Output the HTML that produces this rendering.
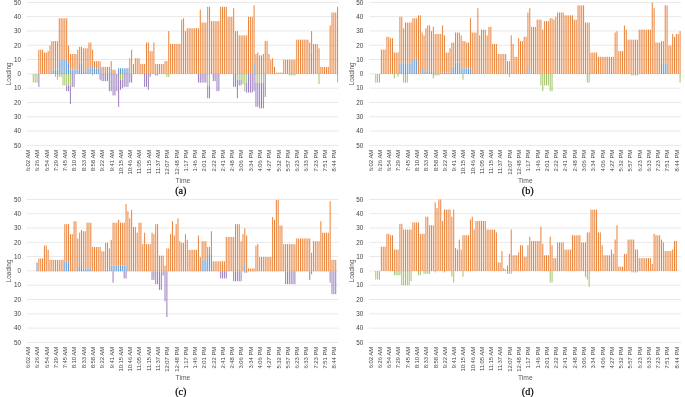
<!DOCTYPE html>
<html><head><meta charset="utf-8"><title>Loading charts</title>
<style>
html,body{margin:0;padding:0;background:#fff;}
body{width:685px;height:397px;overflow:hidden;font-family:"Liberation Sans",sans-serif;}
svg{display:block;will-change:transform;}
svg text{font-family:"Liberation Sans",sans-serif;}
svg text.cap{font-family:"Liberation Serif",serif;}
</style></head><body>
<svg width="685" height="397" viewBox="0 0 685 397">
<rect width="685" height="397" fill="#fff"/>
<rect x="26.90" y="144.90" width="311.70" height="0.9" fill="#E7E7E7"/>
<text x="20.90" y="147.60" text-anchor="end" font-size="6.3" fill="#424242">50</text>
<rect x="26.90" y="130.60" width="311.70" height="0.9" fill="#E7E7E7"/>
<text x="20.90" y="133.30" text-anchor="end" font-size="6.3" fill="#424242">40</text>
<rect x="26.90" y="116.30" width="311.70" height="0.9" fill="#E7E7E7"/>
<text x="20.90" y="119.00" text-anchor="end" font-size="6.3" fill="#424242">30</text>
<rect x="26.90" y="102.00" width="311.70" height="0.9" fill="#E7E7E7"/>
<text x="20.90" y="104.70" text-anchor="end" font-size="6.3" fill="#424242">20</text>
<rect x="26.90" y="87.70" width="311.70" height="0.9" fill="#E7E7E7"/>
<text x="20.90" y="90.40" text-anchor="end" font-size="6.3" fill="#424242">10</text>
<rect x="26.90" y="73.40" width="311.70" height="0.9" fill="#E7E7E7"/>
<text x="20.90" y="76.10" text-anchor="end" font-size="6.3" fill="#424242">0</text>
<rect x="26.90" y="59.10" width="311.70" height="0.9" fill="#E7E7E7"/>
<text x="20.90" y="61.80" text-anchor="end" font-size="6.3" fill="#424242">10</text>
<rect x="26.90" y="44.80" width="311.70" height="0.9" fill="#E7E7E7"/>
<text x="20.90" y="47.50" text-anchor="end" font-size="6.3" fill="#424242">20</text>
<rect x="26.90" y="30.50" width="311.70" height="0.9" fill="#E7E7E7"/>
<text x="20.90" y="33.20" text-anchor="end" font-size="6.3" fill="#424242">30</text>
<rect x="26.90" y="16.20" width="311.70" height="0.9" fill="#E7E7E7"/>
<text x="20.90" y="18.90" text-anchor="end" font-size="6.3" fill="#424242">40</text>
<rect x="26.90" y="1.90" width="311.70" height="0.9" fill="#E7E7E7"/>
<text x="20.90" y="4.60" text-anchor="end" font-size="6.3" fill="#424242">50</text>
<rect x="32.79" y="74.00" width="1.0" height="8.58" fill="#A2C36B"/>
<rect x="34.65" y="74.00" width="1.0" height="8.58" fill="#A2C36B"/>
<rect x="36.50" y="74.00" width="1.0" height="8.58" fill="#A2C36B"/>
<rect x="38.36" y="49.69" width="1.0" height="24.31" fill="#EB8238"/>
<rect x="38.36" y="74.00" width="1.0" height="12.87" fill="#9A7DBF"/>
<rect x="40.22" y="49.69" width="1.0" height="24.31" fill="#EB8238"/>
<rect x="42.07" y="49.69" width="1.0" height="24.31" fill="#EB8238"/>
<rect x="43.93" y="52.55" width="1.0" height="21.45" fill="#EB8238"/>
<rect x="45.78" y="52.55" width="1.0" height="21.45" fill="#EB8238"/>
<rect x="47.64" y="51.12" width="1.0" height="22.88" fill="#EB8238"/>
<rect x="49.49" y="45.40" width="1.0" height="28.60" fill="#EB8238"/>
<rect x="51.35" y="69.71" width="1.0" height="4.29" fill="#5F97D0"/>
<rect x="51.35" y="41.11" width="1.0" height="28.60" fill="#EB8238"/>
<rect x="53.20" y="69.71" width="1.0" height="4.29" fill="#5F97D0"/>
<rect x="53.20" y="41.11" width="1.0" height="28.60" fill="#EB8238"/>
<rect x="55.06" y="69.71" width="1.0" height="4.29" fill="#5F97D0"/>
<rect x="55.06" y="41.11" width="1.0" height="28.60" fill="#EB8238"/>
<rect x="55.06" y="74.00" width="1.0" height="2.86" fill="#A2C36B"/>
<rect x="56.91" y="69.71" width="1.0" height="4.29" fill="#5F97D0"/>
<rect x="56.91" y="41.11" width="1.0" height="28.60" fill="#EB8238"/>
<rect x="56.91" y="74.00" width="1.0" height="5.72" fill="#A2C36B"/>
<rect x="58.77" y="59.70" width="1.0" height="14.30" fill="#5F97D0"/>
<rect x="58.77" y="18.23" width="1.0" height="41.47" fill="#EB8238"/>
<rect x="58.77" y="74.00" width="1.0" height="2.86" fill="#A2C36B"/>
<rect x="60.62" y="59.70" width="1.0" height="14.30" fill="#5F97D0"/>
<rect x="60.62" y="18.23" width="1.0" height="41.47" fill="#EB8238"/>
<rect x="60.62" y="74.00" width="1.0" height="2.86" fill="#A2C36B"/>
<rect x="62.48" y="59.70" width="1.0" height="14.30" fill="#5F97D0"/>
<rect x="62.48" y="18.23" width="1.0" height="41.47" fill="#EB8238"/>
<rect x="62.48" y="74.00" width="1.0" height="11.44" fill="#A2C36B"/>
<rect x="64.33" y="59.70" width="1.0" height="14.30" fill="#5F97D0"/>
<rect x="64.33" y="18.23" width="1.0" height="41.47" fill="#EB8238"/>
<rect x="64.33" y="74.00" width="1.0" height="11.44" fill="#A2C36B"/>
<rect x="66.19" y="59.70" width="1.0" height="14.30" fill="#5F97D0"/>
<rect x="66.19" y="18.23" width="1.0" height="41.47" fill="#EB8238"/>
<rect x="66.19" y="74.00" width="1.0" height="11.44" fill="#A2C36B"/>
<rect x="66.19" y="85.44" width="1.0" height="5.72" fill="#9A7DBF"/>
<rect x="68.05" y="63.99" width="1.0" height="10.01" fill="#5F97D0"/>
<rect x="68.05" y="45.40" width="1.0" height="18.59" fill="#EB8238"/>
<rect x="68.05" y="74.00" width="1.0" height="11.44" fill="#A2C36B"/>
<rect x="68.05" y="85.44" width="1.0" height="5.72" fill="#9A7DBF"/>
<rect x="69.90" y="69.71" width="1.0" height="4.29" fill="#5F97D0"/>
<rect x="69.90" y="53.98" width="1.0" height="15.73" fill="#EB8238"/>
<rect x="69.90" y="74.00" width="1.0" height="11.44" fill="#A2C36B"/>
<rect x="69.90" y="85.44" width="1.0" height="18.59" fill="#9A7DBF"/>
<rect x="71.76" y="69.71" width="1.0" height="4.29" fill="#5F97D0"/>
<rect x="71.76" y="53.98" width="1.0" height="15.73" fill="#EB8238"/>
<rect x="71.76" y="74.00" width="1.0" height="12.87" fill="#9A7DBF"/>
<rect x="73.61" y="69.71" width="1.0" height="4.29" fill="#5F97D0"/>
<rect x="73.61" y="53.98" width="1.0" height="15.73" fill="#EB8238"/>
<rect x="73.61" y="74.00" width="1.0" height="12.87" fill="#9A7DBF"/>
<rect x="75.47" y="69.71" width="1.0" height="4.29" fill="#5F97D0"/>
<rect x="75.47" y="53.98" width="1.0" height="15.73" fill="#EB8238"/>
<rect x="77.32" y="69.71" width="1.0" height="4.29" fill="#5F97D0"/>
<rect x="77.32" y="49.69" width="1.0" height="20.02" fill="#EB8238"/>
<rect x="79.18" y="62.56" width="1.0" height="11.44" fill="#5F97D0"/>
<rect x="79.18" y="46.83" width="1.0" height="15.73" fill="#EB8238"/>
<rect x="81.03" y="62.56" width="1.0" height="11.44" fill="#5F97D0"/>
<rect x="81.03" y="46.83" width="1.0" height="15.73" fill="#EB8238"/>
<rect x="82.89" y="71.14" width="1.0" height="2.86" fill="#5F97D0"/>
<rect x="82.89" y="48.26" width="1.0" height="22.88" fill="#EB8238"/>
<rect x="84.74" y="71.14" width="1.0" height="2.86" fill="#5F97D0"/>
<rect x="84.74" y="48.26" width="1.0" height="22.88" fill="#EB8238"/>
<rect x="86.60" y="71.14" width="1.0" height="2.86" fill="#5F97D0"/>
<rect x="86.60" y="48.26" width="1.0" height="22.88" fill="#EB8238"/>
<rect x="88.45" y="68.28" width="1.0" height="5.72" fill="#5F97D0"/>
<rect x="88.45" y="42.54" width="1.0" height="25.74" fill="#EB8238"/>
<rect x="90.31" y="68.28" width="1.0" height="5.72" fill="#5F97D0"/>
<rect x="90.31" y="42.54" width="1.0" height="25.74" fill="#EB8238"/>
<rect x="92.17" y="65.42" width="1.0" height="8.58" fill="#5F97D0"/>
<rect x="92.17" y="49.69" width="1.0" height="15.73" fill="#EB8238"/>
<rect x="92.17" y="74.00" width="1.0" height="1.43" fill="#A2C36B"/>
<rect x="94.02" y="68.28" width="1.0" height="5.72" fill="#5F97D0"/>
<rect x="94.02" y="61.13" width="1.0" height="7.15" fill="#EB8238"/>
<rect x="95.88" y="68.28" width="1.0" height="5.72" fill="#5F97D0"/>
<rect x="95.88" y="61.13" width="1.0" height="7.15" fill="#EB8238"/>
<rect x="97.73" y="68.28" width="1.0" height="5.72" fill="#5F97D0"/>
<rect x="97.73" y="61.13" width="1.0" height="7.15" fill="#EB8238"/>
<rect x="99.59" y="68.28" width="1.0" height="5.72" fill="#5F97D0"/>
<rect x="99.59" y="61.13" width="1.0" height="7.15" fill="#EB8238"/>
<rect x="99.59" y="74.00" width="1.0" height="5.72" fill="#9A7DBF"/>
<rect x="101.44" y="66.85" width="1.0" height="7.15" fill="#EB8238"/>
<rect x="101.44" y="74.00" width="1.0" height="7.15" fill="#9A7DBF"/>
<rect x="103.30" y="66.85" width="1.0" height="7.15" fill="#EB8238"/>
<rect x="103.30" y="74.00" width="1.0" height="7.15" fill="#9A7DBF"/>
<rect x="105.15" y="66.85" width="1.0" height="7.15" fill="#EB8238"/>
<rect x="105.15" y="74.00" width="1.0" height="7.15" fill="#9A7DBF"/>
<rect x="107.01" y="66.85" width="1.0" height="7.15" fill="#EB8238"/>
<rect x="107.01" y="74.00" width="1.0" height="7.15" fill="#9A7DBF"/>
<rect x="108.86" y="66.85" width="1.0" height="7.15" fill="#EB8238"/>
<rect x="108.86" y="74.00" width="1.0" height="17.16" fill="#9A7DBF"/>
<rect x="110.72" y="68.28" width="1.0" height="5.72" fill="#5F97D0"/>
<rect x="110.72" y="61.13" width="1.0" height="7.15" fill="#EB8238"/>
<rect x="110.72" y="74.00" width="1.0" height="17.16" fill="#9A7DBF"/>
<rect x="112.57" y="69.71" width="1.0" height="4.29" fill="#EB8238"/>
<rect x="112.57" y="74.00" width="1.0" height="21.45" fill="#9A7DBF"/>
<rect x="114.43" y="69.71" width="1.0" height="4.29" fill="#EB8238"/>
<rect x="114.43" y="74.00" width="1.0" height="21.45" fill="#9A7DBF"/>
<rect x="116.28" y="74.00" width="1.0" height="17.16" fill="#9A7DBF"/>
<rect x="118.14" y="68.28" width="1.0" height="5.72" fill="#5F97D0"/>
<rect x="118.14" y="74.00" width="1.0" height="32.89" fill="#9A7DBF"/>
<rect x="120.00" y="68.28" width="1.0" height="5.72" fill="#5F97D0"/>
<rect x="120.00" y="74.00" width="1.0" height="5.72" fill="#A2C36B"/>
<rect x="120.00" y="79.72" width="1.0" height="10.01" fill="#9A7DBF"/>
<rect x="121.85" y="68.28" width="1.0" height="5.72" fill="#5F97D0"/>
<rect x="121.85" y="74.00" width="1.0" height="5.72" fill="#A2C36B"/>
<rect x="121.85" y="79.72" width="1.0" height="8.58" fill="#9A7DBF"/>
<rect x="123.71" y="68.28" width="1.0" height="5.72" fill="#5F97D0"/>
<rect x="123.71" y="74.00" width="1.0" height="12.87" fill="#9A7DBF"/>
<rect x="125.56" y="68.28" width="1.0" height="5.72" fill="#5F97D0"/>
<rect x="125.56" y="74.00" width="1.0" height="12.87" fill="#9A7DBF"/>
<rect x="127.42" y="68.28" width="1.0" height="5.72" fill="#5F97D0"/>
<rect x="127.42" y="74.00" width="1.0" height="12.87" fill="#9A7DBF"/>
<rect x="129.27" y="58.27" width="1.0" height="15.73" fill="#EB8238"/>
<rect x="129.27" y="74.00" width="1.0" height="8.58" fill="#9A7DBF"/>
<rect x="131.13" y="49.69" width="1.0" height="24.31" fill="#EB8238"/>
<rect x="131.13" y="74.00" width="1.0" height="8.58" fill="#9A7DBF"/>
<rect x="132.98" y="63.99" width="1.0" height="10.01" fill="#EB8238"/>
<rect x="134.84" y="58.27" width="1.0" height="15.73" fill="#EB8238"/>
<rect x="136.69" y="58.27" width="1.0" height="15.73" fill="#EB8238"/>
<rect x="138.55" y="58.27" width="1.0" height="15.73" fill="#EB8238"/>
<rect x="140.40" y="63.99" width="1.0" height="10.01" fill="#EB8238"/>
<rect x="142.26" y="63.99" width="1.0" height="10.01" fill="#EB8238"/>
<rect x="144.12" y="63.99" width="1.0" height="10.01" fill="#EB8238"/>
<rect x="144.12" y="74.00" width="1.0" height="12.87" fill="#9A7DBF"/>
<rect x="145.97" y="42.54" width="1.0" height="31.46" fill="#EB8238"/>
<rect x="145.97" y="74.00" width="1.0" height="12.87" fill="#9A7DBF"/>
<rect x="147.83" y="42.54" width="1.0" height="31.46" fill="#EB8238"/>
<rect x="147.83" y="74.00" width="1.0" height="15.73" fill="#9A7DBF"/>
<rect x="149.68" y="51.12" width="1.0" height="22.88" fill="#EB8238"/>
<rect x="149.68" y="74.00" width="1.0" height="2.86" fill="#9A7DBF"/>
<rect x="151.54" y="51.12" width="1.0" height="22.88" fill="#EB8238"/>
<rect x="153.39" y="42.54" width="1.0" height="31.46" fill="#EB8238"/>
<rect x="155.25" y="63.99" width="1.0" height="10.01" fill="#EB8238"/>
<rect x="155.25" y="74.00" width="1.0" height="1.43" fill="#9A7DBF"/>
<rect x="157.10" y="63.99" width="1.0" height="10.01" fill="#EB8238"/>
<rect x="157.10" y="74.00" width="1.0" height="1.43" fill="#9A7DBF"/>
<rect x="158.96" y="63.99" width="1.0" height="10.01" fill="#EB8238"/>
<rect x="160.81" y="63.99" width="1.0" height="10.01" fill="#EB8238"/>
<rect x="162.67" y="63.99" width="1.0" height="10.01" fill="#EB8238"/>
<rect x="164.52" y="61.13" width="1.0" height="12.87" fill="#EB8238"/>
<rect x="166.38" y="61.13" width="1.0" height="12.87" fill="#EB8238"/>
<rect x="166.38" y="74.00" width="1.0" height="2.86" fill="#A2C36B"/>
<rect x="168.23" y="31.10" width="1.0" height="42.90" fill="#EB8238"/>
<rect x="168.23" y="74.00" width="1.0" height="2.86" fill="#A2C36B"/>
<rect x="170.09" y="43.97" width="1.0" height="30.03" fill="#EB8238"/>
<rect x="171.95" y="43.97" width="1.0" height="30.03" fill="#EB8238"/>
<rect x="173.80" y="43.97" width="1.0" height="30.03" fill="#EB8238"/>
<rect x="175.66" y="43.97" width="1.0" height="30.03" fill="#EB8238"/>
<rect x="177.51" y="43.97" width="1.0" height="30.03" fill="#EB8238"/>
<rect x="179.37" y="43.97" width="1.0" height="30.03" fill="#EB8238"/>
<rect x="181.22" y="19.66" width="1.0" height="54.34" fill="#EB8238"/>
<rect x="183.08" y="18.23" width="1.0" height="55.77" fill="#EB8238"/>
<rect x="184.93" y="31.10" width="1.0" height="42.90" fill="#EB8238"/>
<rect x="186.79" y="28.24" width="1.0" height="45.76" fill="#EB8238"/>
<rect x="188.64" y="28.24" width="1.0" height="45.76" fill="#EB8238"/>
<rect x="190.50" y="28.24" width="1.0" height="45.76" fill="#EB8238"/>
<rect x="192.35" y="28.24" width="1.0" height="45.76" fill="#EB8238"/>
<rect x="194.21" y="28.24" width="1.0" height="45.76" fill="#EB8238"/>
<rect x="196.07" y="28.24" width="1.0" height="45.76" fill="#EB8238"/>
<rect x="197.92" y="28.24" width="1.0" height="45.76" fill="#EB8238"/>
<rect x="197.92" y="74.00" width="1.0" height="8.58" fill="#9A7DBF"/>
<rect x="199.78" y="9.65" width="1.0" height="64.35" fill="#EB8238"/>
<rect x="199.78" y="74.00" width="1.0" height="8.58" fill="#9A7DBF"/>
<rect x="201.63" y="22.52" width="1.0" height="51.48" fill="#EB8238"/>
<rect x="201.63" y="74.00" width="1.0" height="8.58" fill="#9A7DBF"/>
<rect x="203.49" y="22.52" width="1.0" height="51.48" fill="#EB8238"/>
<rect x="203.49" y="74.00" width="1.0" height="8.58" fill="#9A7DBF"/>
<rect x="205.34" y="22.52" width="1.0" height="51.48" fill="#EB8238"/>
<rect x="205.34" y="74.00" width="1.0" height="8.58" fill="#9A7DBF"/>
<rect x="207.20" y="6.79" width="1.0" height="67.21" fill="#EB8238"/>
<rect x="207.20" y="74.00" width="1.0" height="11.44" fill="#A2C36B"/>
<rect x="207.20" y="85.44" width="1.0" height="12.87" fill="#9A7DBF"/>
<rect x="209.05" y="6.79" width="1.0" height="67.21" fill="#EB8238"/>
<rect x="209.05" y="74.00" width="1.0" height="11.44" fill="#A2C36B"/>
<rect x="209.05" y="85.44" width="1.0" height="12.87" fill="#9A7DBF"/>
<rect x="210.91" y="21.09" width="1.0" height="52.91" fill="#EB8238"/>
<rect x="212.76" y="21.09" width="1.0" height="52.91" fill="#EB8238"/>
<rect x="212.76" y="74.00" width="1.0" height="7.15" fill="#9A7DBF"/>
<rect x="214.62" y="21.09" width="1.0" height="52.91" fill="#EB8238"/>
<rect x="214.62" y="74.00" width="1.0" height="7.15" fill="#9A7DBF"/>
<rect x="216.47" y="21.09" width="1.0" height="52.91" fill="#EB8238"/>
<rect x="216.47" y="74.00" width="1.0" height="17.16" fill="#9A7DBF"/>
<rect x="218.33" y="21.09" width="1.0" height="52.91" fill="#EB8238"/>
<rect x="218.33" y="74.00" width="1.0" height="17.16" fill="#9A7DBF"/>
<rect x="220.18" y="6.79" width="1.0" height="67.21" fill="#EB8238"/>
<rect x="222.04" y="6.79" width="1.0" height="67.21" fill="#EB8238"/>
<rect x="223.90" y="6.79" width="1.0" height="67.21" fill="#EB8238"/>
<rect x="225.75" y="6.79" width="1.0" height="67.21" fill="#EB8238"/>
<rect x="227.61" y="16.80" width="1.0" height="57.20" fill="#EB8238"/>
<rect x="229.46" y="16.80" width="1.0" height="57.20" fill="#EB8238"/>
<rect x="231.32" y="16.80" width="1.0" height="57.20" fill="#EB8238"/>
<rect x="233.17" y="8.22" width="1.0" height="65.78" fill="#EB8238"/>
<rect x="233.17" y="74.00" width="1.0" height="12.87" fill="#9A7DBF"/>
<rect x="235.03" y="31.10" width="1.0" height="42.90" fill="#EB8238"/>
<rect x="235.03" y="74.00" width="1.0" height="12.87" fill="#9A7DBF"/>
<rect x="236.88" y="31.10" width="1.0" height="42.90" fill="#EB8238"/>
<rect x="236.88" y="74.00" width="1.0" height="5.72" fill="#A2C36B"/>
<rect x="236.88" y="79.72" width="1.0" height="18.59" fill="#9A7DBF"/>
<rect x="238.74" y="35.39" width="1.0" height="38.61" fill="#EB8238"/>
<rect x="238.74" y="74.00" width="1.0" height="5.72" fill="#A2C36B"/>
<rect x="238.74" y="79.72" width="1.0" height="5.72" fill="#9A7DBF"/>
<rect x="240.59" y="35.39" width="1.0" height="38.61" fill="#EB8238"/>
<rect x="240.59" y="74.00" width="1.0" height="5.72" fill="#A2C36B"/>
<rect x="240.59" y="79.72" width="1.0" height="5.72" fill="#9A7DBF"/>
<rect x="242.45" y="35.39" width="1.0" height="38.61" fill="#EB8238"/>
<rect x="242.45" y="74.00" width="1.0" height="10.01" fill="#A2C36B"/>
<rect x="244.30" y="35.39" width="1.0" height="38.61" fill="#EB8238"/>
<rect x="244.30" y="74.00" width="1.0" height="15.73" fill="#A2C36B"/>
<rect x="244.30" y="89.73" width="1.0" height="1.43" fill="#9A7DBF"/>
<rect x="246.16" y="35.39" width="1.0" height="38.61" fill="#EB8238"/>
<rect x="246.16" y="74.00" width="1.0" height="8.58" fill="#A2C36B"/>
<rect x="246.16" y="82.58" width="1.0" height="10.01" fill="#9A7DBF"/>
<rect x="248.02" y="16.80" width="1.0" height="57.20" fill="#EB8238"/>
<rect x="248.02" y="74.00" width="1.0" height="18.59" fill="#9A7DBF"/>
<rect x="249.87" y="16.80" width="1.0" height="57.20" fill="#EB8238"/>
<rect x="249.87" y="74.00" width="1.0" height="18.59" fill="#9A7DBF"/>
<rect x="251.73" y="16.80" width="1.0" height="57.20" fill="#EB8238"/>
<rect x="251.73" y="74.00" width="1.0" height="18.59" fill="#9A7DBF"/>
<rect x="253.58" y="62.56" width="1.0" height="11.44" fill="#5F97D0"/>
<rect x="253.58" y="5.36" width="1.0" height="57.20" fill="#EB8238"/>
<rect x="253.58" y="74.00" width="1.0" height="17.16" fill="#9A7DBF"/>
<rect x="255.44" y="53.98" width="1.0" height="20.02" fill="#EB8238"/>
<rect x="255.44" y="74.00" width="1.0" height="8.58" fill="#A2C36B"/>
<rect x="255.44" y="82.58" width="1.0" height="24.31" fill="#9A7DBF"/>
<rect x="257.29" y="52.55" width="1.0" height="21.45" fill="#EB8238"/>
<rect x="257.29" y="74.00" width="1.0" height="8.58" fill="#A2C36B"/>
<rect x="257.29" y="82.58" width="1.0" height="24.31" fill="#9A7DBF"/>
<rect x="259.15" y="55.41" width="1.0" height="18.59" fill="#EB8238"/>
<rect x="259.15" y="74.00" width="1.0" height="8.58" fill="#A2C36B"/>
<rect x="259.15" y="82.58" width="1.0" height="25.74" fill="#9A7DBF"/>
<rect x="261.00" y="55.41" width="1.0" height="18.59" fill="#EB8238"/>
<rect x="261.00" y="74.00" width="1.0" height="8.58" fill="#A2C36B"/>
<rect x="261.00" y="82.58" width="1.0" height="25.74" fill="#9A7DBF"/>
<rect x="262.86" y="53.98" width="1.0" height="20.02" fill="#EB8238"/>
<rect x="262.86" y="74.00" width="1.0" height="8.58" fill="#A2C36B"/>
<rect x="262.86" y="82.58" width="1.0" height="25.74" fill="#9A7DBF"/>
<rect x="264.71" y="41.11" width="1.0" height="32.89" fill="#EB8238"/>
<rect x="264.71" y="74.00" width="1.0" height="22.88" fill="#9A7DBF"/>
<rect x="266.57" y="41.11" width="1.0" height="32.89" fill="#EB8238"/>
<rect x="268.42" y="53.98" width="1.0" height="20.02" fill="#EB8238"/>
<rect x="270.28" y="59.70" width="1.0" height="14.30" fill="#EB8238"/>
<rect x="272.13" y="58.27" width="1.0" height="15.73" fill="#EB8238"/>
<rect x="273.99" y="66.85" width="1.0" height="7.15" fill="#EB8238"/>
<rect x="275.85" y="72.57" width="1.0" height="1.43" fill="#EB8238"/>
<rect x="277.70" y="72.57" width="1.0" height="1.43" fill="#EB8238"/>
<rect x="279.56" y="72.57" width="1.0" height="1.43" fill="#EB8238"/>
<rect x="281.41" y="72.57" width="1.0" height="1.43" fill="#EB8238"/>
<rect x="283.27" y="59.70" width="1.0" height="14.30" fill="#EB8238"/>
<rect x="285.12" y="59.70" width="1.0" height="14.30" fill="#EB8238"/>
<rect x="286.98" y="59.70" width="1.0" height="14.30" fill="#EB8238"/>
<rect x="288.83" y="59.70" width="1.0" height="14.30" fill="#EB8238"/>
<rect x="288.83" y="74.00" width="1.0" height="1.43" fill="#A2C36B"/>
<rect x="290.69" y="59.70" width="1.0" height="14.30" fill="#EB8238"/>
<rect x="290.69" y="74.00" width="1.0" height="1.43" fill="#A2C36B"/>
<rect x="292.54" y="59.70" width="1.0" height="14.30" fill="#EB8238"/>
<rect x="292.54" y="74.00" width="1.0" height="1.43" fill="#A2C36B"/>
<rect x="294.40" y="59.70" width="1.0" height="14.30" fill="#EB8238"/>
<rect x="294.40" y="74.00" width="1.0" height="1.43" fill="#A2C36B"/>
<rect x="296.25" y="39.68" width="1.0" height="34.32" fill="#EB8238"/>
<rect x="298.11" y="39.68" width="1.0" height="34.32" fill="#EB8238"/>
<rect x="299.97" y="39.68" width="1.0" height="34.32" fill="#EB8238"/>
<rect x="301.82" y="39.68" width="1.0" height="34.32" fill="#EB8238"/>
<rect x="303.68" y="39.68" width="1.0" height="34.32" fill="#EB8238"/>
<rect x="305.53" y="39.68" width="1.0" height="34.32" fill="#EB8238"/>
<rect x="307.39" y="39.68" width="1.0" height="34.32" fill="#EB8238"/>
<rect x="309.24" y="42.54" width="1.0" height="31.46" fill="#EB8238"/>
<rect x="311.10" y="52.55" width="1.0" height="21.45" fill="#5F97D0"/>
<rect x="311.10" y="31.10" width="1.0" height="21.45" fill="#EB8238"/>
<rect x="312.95" y="43.97" width="1.0" height="30.03" fill="#EB8238"/>
<rect x="314.81" y="43.97" width="1.0" height="30.03" fill="#EB8238"/>
<rect x="316.66" y="43.97" width="1.0" height="30.03" fill="#EB8238"/>
<rect x="318.52" y="48.26" width="1.0" height="25.74" fill="#EB8238"/>
<rect x="318.52" y="74.00" width="1.0" height="10.01" fill="#A2C36B"/>
<rect x="320.37" y="66.85" width="1.0" height="7.15" fill="#EB8238"/>
<rect x="322.23" y="66.85" width="1.0" height="7.15" fill="#EB8238"/>
<rect x="324.08" y="66.85" width="1.0" height="7.15" fill="#EB8238"/>
<rect x="325.94" y="66.85" width="1.0" height="7.15" fill="#EB8238"/>
<rect x="327.80" y="66.85" width="1.0" height="7.15" fill="#EB8238"/>
<rect x="329.65" y="25.38" width="1.0" height="48.62" fill="#EB8238"/>
<rect x="331.51" y="12.51" width="1.0" height="61.49" fill="#EB8238"/>
<rect x="333.36" y="12.51" width="1.0" height="61.49" fill="#EB8238"/>
<rect x="335.22" y="12.51" width="1.0" height="61.49" fill="#EB8238"/>
<rect x="337.07" y="6.79" width="1.0" height="67.21" fill="#EB8238"/>
<rect x="337.07" y="74.00" width="1.0" height="8.58" fill="#A2C36B"/>
<text transform="translate(30.08,149.80) rotate(-90)" text-anchor="end" font-size="5.85" fill="#424242">6:02 AM</text>
<text transform="translate(39.35,149.80) rotate(-90)" text-anchor="end" font-size="5.85" fill="#424242">6:26 AM</text>
<text transform="translate(48.63,149.80) rotate(-90)" text-anchor="end" font-size="5.85" fill="#424242">6:54 AM</text>
<text transform="translate(57.91,149.80) rotate(-90)" text-anchor="end" font-size="5.85" fill="#424242">7:29 AM</text>
<text transform="translate(67.18,149.80) rotate(-90)" text-anchor="end" font-size="5.85" fill="#424242">7:45 AM</text>
<text transform="translate(76.46,149.80) rotate(-90)" text-anchor="end" font-size="5.85" fill="#424242">8:10 AM</text>
<text transform="translate(85.74,149.80) rotate(-90)" text-anchor="end" font-size="5.85" fill="#424242">8:33 AM</text>
<text transform="translate(95.02,149.80) rotate(-90)" text-anchor="end" font-size="5.85" fill="#424242">8:58 AM</text>
<text transform="translate(104.29,149.80) rotate(-90)" text-anchor="end" font-size="5.85" fill="#424242">9:22 AM</text>
<text transform="translate(113.57,149.80) rotate(-90)" text-anchor="end" font-size="5.85" fill="#424242">9:41 AM</text>
<text transform="translate(122.85,149.80) rotate(-90)" text-anchor="end" font-size="5.85" fill="#424242">10:15 AM</text>
<text transform="translate(132.12,149.80) rotate(-90)" text-anchor="end" font-size="5.85" fill="#424242">10:46 AM</text>
<text transform="translate(141.40,149.80) rotate(-90)" text-anchor="end" font-size="5.85" fill="#424242">11:05 AM</text>
<text transform="translate(150.68,149.80) rotate(-90)" text-anchor="end" font-size="5.85" fill="#424242">11:15 AM</text>
<text transform="translate(159.95,149.80) rotate(-90)" text-anchor="end" font-size="5.85" fill="#424242">11:37 AM</text>
<text transform="translate(169.23,149.80) rotate(-90)" text-anchor="end" font-size="5.85" fill="#424242">12:07 PM</text>
<text transform="translate(178.51,149.80) rotate(-90)" text-anchor="end" font-size="5.85" fill="#424242">12:48 PM</text>
<text transform="translate(187.78,149.80) rotate(-90)" text-anchor="end" font-size="5.85" fill="#424242">1:17 PM</text>
<text transform="translate(197.06,149.80) rotate(-90)" text-anchor="end" font-size="5.85" fill="#424242">1:46 PM</text>
<text transform="translate(206.34,149.80) rotate(-90)" text-anchor="end" font-size="5.85" fill="#424242">2:01 PM</text>
<text transform="translate(215.61,149.80) rotate(-90)" text-anchor="end" font-size="5.85" fill="#424242">2:22 PM</text>
<text transform="translate(224.89,149.80) rotate(-90)" text-anchor="end" font-size="5.85" fill="#424242">2:41 PM</text>
<text transform="translate(234.17,149.80) rotate(-90)" text-anchor="end" font-size="5.85" fill="#424242">2:48 PM</text>
<text transform="translate(243.44,149.80) rotate(-90)" text-anchor="end" font-size="5.85" fill="#424242">3:06 PM</text>
<text transform="translate(252.72,149.80) rotate(-90)" text-anchor="end" font-size="5.85" fill="#424242">3:34 PM</text>
<text transform="translate(262.00,149.80) rotate(-90)" text-anchor="end" font-size="5.85" fill="#424242">4:06 PM</text>
<text transform="translate(271.27,149.80) rotate(-90)" text-anchor="end" font-size="5.85" fill="#424242">4:27 PM</text>
<text transform="translate(280.55,149.80) rotate(-90)" text-anchor="end" font-size="5.85" fill="#424242">5:32 PM</text>
<text transform="translate(289.83,149.80) rotate(-90)" text-anchor="end" font-size="5.85" fill="#424242">5:57 PM</text>
<text transform="translate(299.10,149.80) rotate(-90)" text-anchor="end" font-size="5.85" fill="#424242">6:23 PM</text>
<text transform="translate(308.38,149.80) rotate(-90)" text-anchor="end" font-size="5.85" fill="#424242">6:33 PM</text>
<text transform="translate(317.66,149.80) rotate(-90)" text-anchor="end" font-size="5.85" fill="#424242">7:23 PM</text>
<text transform="translate(326.93,149.80) rotate(-90)" text-anchor="end" font-size="5.85" fill="#424242">7:51 PM</text>
<text transform="translate(336.21,149.80) rotate(-90)" text-anchor="end" font-size="5.85" fill="#424242">8:44 PM</text>
<text transform="translate(11.30,73.85) rotate(-90)" text-anchor="middle" font-size="6.4" fill="#555">Loading</text>
<text x="182.9" y="182.9" text-anchor="middle" font-size="6.7" fill="#595959">Time</text>
<text class="cap" x="180.8" y="193.5" text-anchor="middle" font-size="10.2" fill="#000" stroke="#000" stroke-width="0.22">(a)</text>
<rect x="369.40" y="144.90" width="311.70" height="0.9" fill="#E7E7E7"/>
<text x="363.30" y="147.60" text-anchor="end" font-size="6.3" fill="#424242">50</text>
<rect x="369.40" y="130.60" width="311.70" height="0.9" fill="#E7E7E7"/>
<text x="363.30" y="133.30" text-anchor="end" font-size="6.3" fill="#424242">40</text>
<rect x="369.40" y="116.30" width="311.70" height="0.9" fill="#E7E7E7"/>
<text x="363.30" y="119.00" text-anchor="end" font-size="6.3" fill="#424242">30</text>
<rect x="369.40" y="102.00" width="311.70" height="0.9" fill="#E7E7E7"/>
<text x="363.30" y="104.70" text-anchor="end" font-size="6.3" fill="#424242">20</text>
<rect x="369.40" y="87.70" width="311.70" height="0.9" fill="#E7E7E7"/>
<text x="363.30" y="90.40" text-anchor="end" font-size="6.3" fill="#424242">10</text>
<rect x="369.40" y="73.40" width="311.70" height="0.9" fill="#E7E7E7"/>
<text x="363.30" y="76.10" text-anchor="end" font-size="6.3" fill="#424242">0</text>
<rect x="369.40" y="59.10" width="311.70" height="0.9" fill="#E7E7E7"/>
<text x="363.30" y="61.80" text-anchor="end" font-size="6.3" fill="#424242">10</text>
<rect x="369.40" y="44.80" width="311.70" height="0.9" fill="#E7E7E7"/>
<text x="363.30" y="47.50" text-anchor="end" font-size="6.3" fill="#424242">20</text>
<rect x="369.40" y="30.50" width="311.70" height="0.9" fill="#E7E7E7"/>
<text x="363.30" y="33.20" text-anchor="end" font-size="6.3" fill="#424242">30</text>
<rect x="369.40" y="16.20" width="311.70" height="0.9" fill="#E7E7E7"/>
<text x="363.30" y="18.90" text-anchor="end" font-size="6.3" fill="#424242">40</text>
<rect x="369.40" y="1.90" width="311.70" height="0.9" fill="#E7E7E7"/>
<text x="363.30" y="4.60" text-anchor="end" font-size="6.3" fill="#424242">50</text>
<rect x="375.29" y="74.00" width="1.0" height="8.58" fill="#A2C36B"/>
<rect x="377.15" y="74.00" width="1.0" height="8.58" fill="#A2C36B"/>
<rect x="379.00" y="74.00" width="1.0" height="8.58" fill="#A2C36B"/>
<rect x="380.86" y="49.69" width="1.0" height="24.31" fill="#EB8238"/>
<rect x="382.72" y="49.69" width="1.0" height="24.31" fill="#EB8238"/>
<rect x="384.57" y="49.69" width="1.0" height="24.31" fill="#EB8238"/>
<rect x="386.43" y="36.82" width="1.0" height="37.18" fill="#EB8238"/>
<rect x="388.28" y="36.82" width="1.0" height="37.18" fill="#EB8238"/>
<rect x="390.14" y="38.25" width="1.0" height="35.75" fill="#EB8238"/>
<rect x="391.99" y="38.25" width="1.0" height="35.75" fill="#EB8238"/>
<rect x="393.85" y="52.55" width="1.0" height="21.45" fill="#EB8238"/>
<rect x="393.85" y="74.00" width="1.0" height="4.29" fill="#A2C36B"/>
<rect x="395.70" y="52.55" width="1.0" height="21.45" fill="#EB8238"/>
<rect x="397.56" y="52.55" width="1.0" height="21.45" fill="#EB8238"/>
<rect x="397.56" y="74.00" width="1.0" height="2.86" fill="#A2C36B"/>
<rect x="399.41" y="63.99" width="1.0" height="10.01" fill="#5F97D0"/>
<rect x="399.41" y="16.80" width="1.0" height="47.19" fill="#EB8238"/>
<rect x="401.27" y="63.99" width="1.0" height="10.01" fill="#5F97D0"/>
<rect x="401.27" y="16.80" width="1.0" height="47.19" fill="#EB8238"/>
<rect x="403.12" y="63.99" width="1.0" height="10.01" fill="#5F97D0"/>
<rect x="403.12" y="28.24" width="1.0" height="35.75" fill="#EB8238"/>
<rect x="403.12" y="74.00" width="1.0" height="8.58" fill="#A2C36B"/>
<rect x="404.98" y="63.99" width="1.0" height="10.01" fill="#5F97D0"/>
<rect x="404.98" y="22.52" width="1.0" height="41.47" fill="#EB8238"/>
<rect x="404.98" y="74.00" width="1.0" height="8.58" fill="#A2C36B"/>
<rect x="406.83" y="63.99" width="1.0" height="10.01" fill="#5F97D0"/>
<rect x="406.83" y="22.52" width="1.0" height="41.47" fill="#EB8238"/>
<rect x="406.83" y="74.00" width="1.0" height="8.58" fill="#A2C36B"/>
<rect x="408.69" y="63.99" width="1.0" height="10.01" fill="#5F97D0"/>
<rect x="408.69" y="22.52" width="1.0" height="41.47" fill="#EB8238"/>
<rect x="410.55" y="63.99" width="1.0" height="10.01" fill="#5F97D0"/>
<rect x="410.55" y="22.52" width="1.0" height="41.47" fill="#EB8238"/>
<rect x="412.40" y="59.70" width="1.0" height="14.30" fill="#5F97D0"/>
<rect x="412.40" y="18.23" width="1.0" height="41.47" fill="#EB8238"/>
<rect x="414.26" y="59.70" width="1.0" height="14.30" fill="#5F97D0"/>
<rect x="414.26" y="18.23" width="1.0" height="41.47" fill="#EB8238"/>
<rect x="416.11" y="59.70" width="1.0" height="14.30" fill="#5F97D0"/>
<rect x="416.11" y="18.23" width="1.0" height="41.47" fill="#EB8238"/>
<rect x="417.97" y="15.37" width="1.0" height="58.63" fill="#EB8238"/>
<rect x="419.82" y="15.37" width="1.0" height="58.63" fill="#EB8238"/>
<rect x="421.68" y="66.85" width="1.0" height="7.15" fill="#5F97D0"/>
<rect x="421.68" y="32.53" width="1.0" height="34.32" fill="#EB8238"/>
<rect x="423.53" y="71.14" width="1.0" height="2.86" fill="#5F97D0"/>
<rect x="423.53" y="35.39" width="1.0" height="35.75" fill="#EB8238"/>
<rect x="425.39" y="71.14" width="1.0" height="2.86" fill="#5F97D0"/>
<rect x="425.39" y="28.24" width="1.0" height="42.90" fill="#EB8238"/>
<rect x="427.24" y="71.14" width="1.0" height="2.86" fill="#5F97D0"/>
<rect x="427.24" y="25.38" width="1.0" height="45.76" fill="#EB8238"/>
<rect x="429.10" y="71.14" width="1.0" height="2.86" fill="#5F97D0"/>
<rect x="429.10" y="25.38" width="1.0" height="45.76" fill="#EB8238"/>
<rect x="430.95" y="71.14" width="1.0" height="2.86" fill="#5F97D0"/>
<rect x="430.95" y="31.10" width="1.0" height="40.04" fill="#EB8238"/>
<rect x="432.81" y="71.14" width="1.0" height="2.86" fill="#5F97D0"/>
<rect x="432.81" y="26.81" width="1.0" height="44.33" fill="#EB8238"/>
<rect x="432.81" y="74.00" width="1.0" height="4.29" fill="#A2C36B"/>
<rect x="434.67" y="33.96" width="1.0" height="40.04" fill="#EB8238"/>
<rect x="434.67" y="74.00" width="1.0" height="1.43" fill="#A2C36B"/>
<rect x="436.52" y="33.96" width="1.0" height="40.04" fill="#EB8238"/>
<rect x="436.52" y="74.00" width="1.0" height="1.43" fill="#A2C36B"/>
<rect x="438.38" y="33.96" width="1.0" height="40.04" fill="#EB8238"/>
<rect x="438.38" y="74.00" width="1.0" height="1.43" fill="#A2C36B"/>
<rect x="440.23" y="33.96" width="1.0" height="40.04" fill="#EB8238"/>
<rect x="442.09" y="72.57" width="1.0" height="1.43" fill="#5F97D0"/>
<rect x="442.09" y="25.38" width="1.0" height="47.19" fill="#EB8238"/>
<rect x="443.94" y="72.57" width="1.0" height="1.43" fill="#5F97D0"/>
<rect x="443.94" y="35.39" width="1.0" height="37.18" fill="#EB8238"/>
<rect x="445.80" y="72.57" width="1.0" height="1.43" fill="#5F97D0"/>
<rect x="445.80" y="52.55" width="1.0" height="20.02" fill="#EB8238"/>
<rect x="447.65" y="72.57" width="1.0" height="1.43" fill="#5F97D0"/>
<rect x="447.65" y="52.55" width="1.0" height="20.02" fill="#EB8238"/>
<rect x="449.51" y="72.57" width="1.0" height="1.43" fill="#5F97D0"/>
<rect x="449.51" y="48.26" width="1.0" height="24.31" fill="#EB8238"/>
<rect x="451.36" y="66.85" width="1.0" height="7.15" fill="#5F97D0"/>
<rect x="451.36" y="42.54" width="1.0" height="24.31" fill="#EB8238"/>
<rect x="453.22" y="66.85" width="1.0" height="7.15" fill="#5F97D0"/>
<rect x="453.22" y="42.54" width="1.0" height="24.31" fill="#EB8238"/>
<rect x="455.07" y="62.56" width="1.0" height="11.44" fill="#5F97D0"/>
<rect x="455.07" y="32.53" width="1.0" height="30.03" fill="#EB8238"/>
<rect x="456.93" y="62.56" width="1.0" height="11.44" fill="#5F97D0"/>
<rect x="456.93" y="32.53" width="1.0" height="30.03" fill="#EB8238"/>
<rect x="458.78" y="62.56" width="1.0" height="11.44" fill="#5F97D0"/>
<rect x="458.78" y="32.53" width="1.0" height="30.03" fill="#EB8238"/>
<rect x="460.64" y="68.28" width="1.0" height="5.72" fill="#5F97D0"/>
<rect x="460.64" y="35.39" width="1.0" height="32.89" fill="#EB8238"/>
<rect x="462.50" y="68.28" width="1.0" height="5.72" fill="#5F97D0"/>
<rect x="462.50" y="41.11" width="1.0" height="27.17" fill="#EB8238"/>
<rect x="462.50" y="74.00" width="1.0" height="5.72" fill="#A2C36B"/>
<rect x="464.35" y="68.28" width="1.0" height="5.72" fill="#5F97D0"/>
<rect x="464.35" y="41.11" width="1.0" height="27.17" fill="#EB8238"/>
<rect x="466.21" y="68.28" width="1.0" height="5.72" fill="#5F97D0"/>
<rect x="466.21" y="42.54" width="1.0" height="25.74" fill="#EB8238"/>
<rect x="468.06" y="68.28" width="1.0" height="5.72" fill="#5F97D0"/>
<rect x="468.06" y="42.54" width="1.0" height="25.74" fill="#EB8238"/>
<rect x="469.92" y="68.28" width="1.0" height="5.72" fill="#5F97D0"/>
<rect x="469.92" y="18.23" width="1.0" height="50.05" fill="#EB8238"/>
<rect x="471.77" y="32.53" width="1.0" height="41.47" fill="#EB8238"/>
<rect x="473.63" y="32.53" width="1.0" height="41.47" fill="#EB8238"/>
<rect x="475.48" y="32.53" width="1.0" height="41.47" fill="#EB8238"/>
<rect x="477.34" y="8.22" width="1.0" height="65.78" fill="#EB8238"/>
<rect x="479.19" y="35.39" width="1.0" height="38.61" fill="#EB8238"/>
<rect x="481.05" y="29.67" width="1.0" height="44.33" fill="#EB8238"/>
<rect x="482.90" y="29.67" width="1.0" height="44.33" fill="#EB8238"/>
<rect x="484.76" y="29.67" width="1.0" height="44.33" fill="#EB8238"/>
<rect x="486.62" y="35.39" width="1.0" height="38.61" fill="#EB8238"/>
<rect x="488.47" y="26.81" width="1.0" height="47.19" fill="#EB8238"/>
<rect x="490.33" y="26.81" width="1.0" height="47.19" fill="#EB8238"/>
<rect x="492.18" y="43.97" width="1.0" height="30.03" fill="#EB8238"/>
<rect x="494.04" y="43.97" width="1.0" height="30.03" fill="#EB8238"/>
<rect x="495.89" y="43.97" width="1.0" height="30.03" fill="#EB8238"/>
<rect x="497.75" y="53.98" width="1.0" height="20.02" fill="#EB8238"/>
<rect x="499.60" y="53.98" width="1.0" height="20.02" fill="#EB8238"/>
<rect x="501.46" y="53.98" width="1.0" height="20.02" fill="#EB8238"/>
<rect x="503.31" y="53.98" width="1.0" height="20.02" fill="#EB8238"/>
<rect x="505.17" y="53.98" width="1.0" height="20.02" fill="#EB8238"/>
<rect x="507.02" y="61.13" width="1.0" height="12.87" fill="#EB8238"/>
<rect x="508.88" y="61.13" width="1.0" height="12.87" fill="#EB8238"/>
<rect x="508.88" y="74.00" width="1.0" height="2.86" fill="#A2C36B"/>
<rect x="510.73" y="35.39" width="1.0" height="38.61" fill="#EB8238"/>
<rect x="512.59" y="43.97" width="1.0" height="30.03" fill="#EB8238"/>
<rect x="514.45" y="56.84" width="1.0" height="17.16" fill="#EB8238"/>
<rect x="516.30" y="56.84" width="1.0" height="17.16" fill="#EB8238"/>
<rect x="518.16" y="38.25" width="1.0" height="35.75" fill="#EB8238"/>
<rect x="520.01" y="41.11" width="1.0" height="32.89" fill="#EB8238"/>
<rect x="521.87" y="41.11" width="1.0" height="32.89" fill="#EB8238"/>
<rect x="523.72" y="36.82" width="1.0" height="37.18" fill="#EB8238"/>
<rect x="525.58" y="36.82" width="1.0" height="37.18" fill="#EB8238"/>
<rect x="527.43" y="68.28" width="1.0" height="5.72" fill="#5F97D0"/>
<rect x="527.43" y="12.51" width="1.0" height="55.77" fill="#EB8238"/>
<rect x="529.29" y="8.22" width="1.0" height="65.78" fill="#EB8238"/>
<rect x="531.14" y="26.81" width="1.0" height="47.19" fill="#EB8238"/>
<rect x="533.00" y="26.81" width="1.0" height="47.19" fill="#EB8238"/>
<rect x="534.85" y="26.81" width="1.0" height="47.19" fill="#EB8238"/>
<rect x="536.71" y="19.66" width="1.0" height="54.34" fill="#EB8238"/>
<rect x="538.57" y="19.66" width="1.0" height="54.34" fill="#EB8238"/>
<rect x="540.42" y="19.66" width="1.0" height="54.34" fill="#EB8238"/>
<rect x="540.42" y="74.00" width="1.0" height="11.44" fill="#A2C36B"/>
<rect x="542.28" y="29.67" width="1.0" height="44.33" fill="#EB8238"/>
<rect x="542.28" y="74.00" width="1.0" height="17.16" fill="#A2C36B"/>
<rect x="544.13" y="21.09" width="1.0" height="52.91" fill="#EB8238"/>
<rect x="544.13" y="74.00" width="1.0" height="11.44" fill="#A2C36B"/>
<rect x="545.99" y="21.09" width="1.0" height="52.91" fill="#EB8238"/>
<rect x="545.99" y="74.00" width="1.0" height="11.44" fill="#A2C36B"/>
<rect x="547.84" y="21.09" width="1.0" height="52.91" fill="#EB8238"/>
<rect x="547.84" y="74.00" width="1.0" height="11.44" fill="#A2C36B"/>
<rect x="549.70" y="18.23" width="1.0" height="55.77" fill="#EB8238"/>
<rect x="549.70" y="74.00" width="1.0" height="17.16" fill="#A2C36B"/>
<rect x="551.55" y="18.23" width="1.0" height="55.77" fill="#EB8238"/>
<rect x="551.55" y="74.00" width="1.0" height="17.16" fill="#A2C36B"/>
<rect x="553.41" y="19.66" width="1.0" height="54.34" fill="#EB8238"/>
<rect x="555.26" y="16.80" width="1.0" height="57.20" fill="#EB8238"/>
<rect x="557.12" y="12.51" width="1.0" height="61.49" fill="#EB8238"/>
<rect x="558.97" y="12.51" width="1.0" height="61.49" fill="#EB8238"/>
<rect x="560.83" y="12.51" width="1.0" height="61.49" fill="#EB8238"/>
<rect x="562.68" y="12.51" width="1.0" height="61.49" fill="#EB8238"/>
<rect x="564.54" y="15.37" width="1.0" height="58.63" fill="#EB8238"/>
<rect x="566.40" y="15.37" width="1.0" height="58.63" fill="#EB8238"/>
<rect x="568.25" y="15.37" width="1.0" height="58.63" fill="#EB8238"/>
<rect x="570.11" y="15.37" width="1.0" height="58.63" fill="#EB8238"/>
<rect x="571.96" y="15.37" width="1.0" height="58.63" fill="#EB8238"/>
<rect x="573.82" y="19.66" width="1.0" height="54.34" fill="#EB8238"/>
<rect x="575.67" y="19.66" width="1.0" height="54.34" fill="#EB8238"/>
<rect x="577.53" y="5.36" width="1.0" height="68.64" fill="#EB8238"/>
<rect x="579.38" y="5.36" width="1.0" height="68.64" fill="#EB8238"/>
<rect x="581.24" y="5.36" width="1.0" height="68.64" fill="#EB8238"/>
<rect x="583.09" y="5.36" width="1.0" height="68.64" fill="#EB8238"/>
<rect x="584.95" y="22.52" width="1.0" height="51.48" fill="#EB8238"/>
<rect x="586.80" y="22.52" width="1.0" height="51.48" fill="#EB8238"/>
<rect x="586.80" y="74.00" width="1.0" height="8.58" fill="#A2C36B"/>
<rect x="588.66" y="22.52" width="1.0" height="51.48" fill="#EB8238"/>
<rect x="588.66" y="74.00" width="1.0" height="8.58" fill="#A2C36B"/>
<rect x="590.52" y="52.55" width="1.0" height="21.45" fill="#EB8238"/>
<rect x="592.37" y="52.55" width="1.0" height="21.45" fill="#EB8238"/>
<rect x="594.23" y="52.55" width="1.0" height="21.45" fill="#EB8238"/>
<rect x="596.08" y="52.55" width="1.0" height="21.45" fill="#EB8238"/>
<rect x="597.94" y="56.84" width="1.0" height="17.16" fill="#EB8238"/>
<rect x="599.79" y="56.84" width="1.0" height="17.16" fill="#EB8238"/>
<rect x="601.65" y="56.84" width="1.0" height="17.16" fill="#EB8238"/>
<rect x="603.50" y="56.84" width="1.0" height="17.16" fill="#EB8238"/>
<rect x="605.36" y="56.84" width="1.0" height="17.16" fill="#EB8238"/>
<rect x="607.21" y="56.84" width="1.0" height="17.16" fill="#EB8238"/>
<rect x="609.07" y="56.84" width="1.0" height="17.16" fill="#EB8238"/>
<rect x="610.92" y="56.84" width="1.0" height="17.16" fill="#EB8238"/>
<rect x="612.78" y="56.84" width="1.0" height="17.16" fill="#EB8238"/>
<rect x="614.63" y="32.53" width="1.0" height="41.47" fill="#EB8238"/>
<rect x="616.49" y="31.10" width="1.0" height="42.90" fill="#EB8238"/>
<rect x="618.35" y="51.12" width="1.0" height="22.88" fill="#EB8238"/>
<rect x="620.20" y="51.12" width="1.0" height="22.88" fill="#EB8238"/>
<rect x="622.06" y="51.12" width="1.0" height="22.88" fill="#EB8238"/>
<rect x="623.91" y="25.38" width="1.0" height="48.62" fill="#EB8238"/>
<rect x="625.77" y="29.67" width="1.0" height="44.33" fill="#EB8238"/>
<rect x="627.62" y="39.68" width="1.0" height="34.32" fill="#EB8238"/>
<rect x="629.48" y="39.68" width="1.0" height="34.32" fill="#EB8238"/>
<rect x="631.33" y="39.68" width="1.0" height="34.32" fill="#EB8238"/>
<rect x="631.33" y="74.00" width="1.0" height="1.43" fill="#A2C36B"/>
<rect x="633.19" y="39.68" width="1.0" height="34.32" fill="#EB8238"/>
<rect x="633.19" y="74.00" width="1.0" height="1.43" fill="#A2C36B"/>
<rect x="635.04" y="39.68" width="1.0" height="34.32" fill="#EB8238"/>
<rect x="635.04" y="74.00" width="1.0" height="1.43" fill="#A2C36B"/>
<rect x="636.90" y="39.68" width="1.0" height="34.32" fill="#EB8238"/>
<rect x="636.90" y="74.00" width="1.0" height="1.43" fill="#A2C36B"/>
<rect x="638.75" y="29.67" width="1.0" height="44.33" fill="#EB8238"/>
<rect x="640.61" y="29.67" width="1.0" height="44.33" fill="#EB8238"/>
<rect x="642.47" y="29.67" width="1.0" height="44.33" fill="#EB8238"/>
<rect x="644.32" y="29.67" width="1.0" height="44.33" fill="#EB8238"/>
<rect x="646.18" y="29.67" width="1.0" height="44.33" fill="#EB8238"/>
<rect x="648.03" y="29.67" width="1.0" height="44.33" fill="#EB8238"/>
<rect x="649.89" y="29.67" width="1.0" height="44.33" fill="#EB8238"/>
<rect x="651.74" y="2.50" width="1.0" height="71.50" fill="#EB8238"/>
<rect x="653.60" y="8.22" width="1.0" height="65.78" fill="#EB8238"/>
<rect x="655.45" y="42.54" width="1.0" height="31.46" fill="#EB8238"/>
<rect x="657.31" y="42.54" width="1.0" height="31.46" fill="#EB8238"/>
<rect x="659.16" y="42.54" width="1.0" height="31.46" fill="#EB8238"/>
<rect x="661.02" y="63.99" width="1.0" height="10.01" fill="#5F97D0"/>
<rect x="661.02" y="41.11" width="1.0" height="22.88" fill="#EB8238"/>
<rect x="662.87" y="63.99" width="1.0" height="10.01" fill="#5F97D0"/>
<rect x="662.87" y="41.11" width="1.0" height="22.88" fill="#EB8238"/>
<rect x="664.73" y="63.99" width="1.0" height="10.01" fill="#5F97D0"/>
<rect x="664.73" y="5.36" width="1.0" height="58.63" fill="#EB8238"/>
<rect x="666.58" y="63.99" width="1.0" height="10.01" fill="#5F97D0"/>
<rect x="666.58" y="5.36" width="1.0" height="58.63" fill="#EB8238"/>
<rect x="668.44" y="45.40" width="1.0" height="28.60" fill="#EB8238"/>
<rect x="670.30" y="45.40" width="1.0" height="28.60" fill="#EB8238"/>
<rect x="672.15" y="33.96" width="1.0" height="40.04" fill="#EB8238"/>
<rect x="674.01" y="36.82" width="1.0" height="37.18" fill="#EB8238"/>
<rect x="675.86" y="33.96" width="1.0" height="40.04" fill="#EB8238"/>
<rect x="677.72" y="33.96" width="1.0" height="40.04" fill="#EB8238"/>
<rect x="679.57" y="31.10" width="1.0" height="42.90" fill="#EB8238"/>
<rect x="679.57" y="74.00" width="1.0" height="8.58" fill="#A2C36B"/>
<text transform="translate(372.58,149.80) rotate(-90)" text-anchor="end" font-size="5.85" fill="#424242">6:02 AM</text>
<text transform="translate(381.85,149.80) rotate(-90)" text-anchor="end" font-size="5.85" fill="#424242">6:26 AM</text>
<text transform="translate(391.13,149.80) rotate(-90)" text-anchor="end" font-size="5.85" fill="#424242">6:54 AM</text>
<text transform="translate(400.41,149.80) rotate(-90)" text-anchor="end" font-size="5.85" fill="#424242">7:29 AM</text>
<text transform="translate(409.68,149.80) rotate(-90)" text-anchor="end" font-size="5.85" fill="#424242">7:45 AM</text>
<text transform="translate(418.96,149.80) rotate(-90)" text-anchor="end" font-size="5.85" fill="#424242">8:10 AM</text>
<text transform="translate(428.24,149.80) rotate(-90)" text-anchor="end" font-size="5.85" fill="#424242">8:33 AM</text>
<text transform="translate(437.52,149.80) rotate(-90)" text-anchor="end" font-size="5.85" fill="#424242">8:58 AM</text>
<text transform="translate(446.79,149.80) rotate(-90)" text-anchor="end" font-size="5.85" fill="#424242">9:22 AM</text>
<text transform="translate(456.07,149.80) rotate(-90)" text-anchor="end" font-size="5.85" fill="#424242">9:41 AM</text>
<text transform="translate(465.35,149.80) rotate(-90)" text-anchor="end" font-size="5.85" fill="#424242">10:15 AM</text>
<text transform="translate(474.62,149.80) rotate(-90)" text-anchor="end" font-size="5.85" fill="#424242">10:46 AM</text>
<text transform="translate(483.90,149.80) rotate(-90)" text-anchor="end" font-size="5.85" fill="#424242">11:05 AM</text>
<text transform="translate(493.18,149.80) rotate(-90)" text-anchor="end" font-size="5.85" fill="#424242">11:15 AM</text>
<text transform="translate(502.45,149.80) rotate(-90)" text-anchor="end" font-size="5.85" fill="#424242">11:37 AM</text>
<text transform="translate(511.73,149.80) rotate(-90)" text-anchor="end" font-size="5.85" fill="#424242">12:07 PM</text>
<text transform="translate(521.01,149.80) rotate(-90)" text-anchor="end" font-size="5.85" fill="#424242">12:48 PM</text>
<text transform="translate(530.28,149.80) rotate(-90)" text-anchor="end" font-size="5.85" fill="#424242">1:17 PM</text>
<text transform="translate(539.56,149.80) rotate(-90)" text-anchor="end" font-size="5.85" fill="#424242">1:46 PM</text>
<text transform="translate(548.84,149.80) rotate(-90)" text-anchor="end" font-size="5.85" fill="#424242">2:01 PM</text>
<text transform="translate(558.11,149.80) rotate(-90)" text-anchor="end" font-size="5.85" fill="#424242">2:22 PM</text>
<text transform="translate(567.39,149.80) rotate(-90)" text-anchor="end" font-size="5.85" fill="#424242">2:41 PM</text>
<text transform="translate(576.67,149.80) rotate(-90)" text-anchor="end" font-size="5.85" fill="#424242">2:48 PM</text>
<text transform="translate(585.94,149.80) rotate(-90)" text-anchor="end" font-size="5.85" fill="#424242">3:06 PM</text>
<text transform="translate(595.22,149.80) rotate(-90)" text-anchor="end" font-size="5.85" fill="#424242">3:34 PM</text>
<text transform="translate(604.50,149.80) rotate(-90)" text-anchor="end" font-size="5.85" fill="#424242">4:06 PM</text>
<text transform="translate(613.77,149.80) rotate(-90)" text-anchor="end" font-size="5.85" fill="#424242">4:27 PM</text>
<text transform="translate(623.05,149.80) rotate(-90)" text-anchor="end" font-size="5.85" fill="#424242">5:32 PM</text>
<text transform="translate(632.33,149.80) rotate(-90)" text-anchor="end" font-size="5.85" fill="#424242">5:57 PM</text>
<text transform="translate(641.60,149.80) rotate(-90)" text-anchor="end" font-size="5.85" fill="#424242">6:23 PM</text>
<text transform="translate(650.88,149.80) rotate(-90)" text-anchor="end" font-size="5.85" fill="#424242">6:33 PM</text>
<text transform="translate(660.16,149.80) rotate(-90)" text-anchor="end" font-size="5.85" fill="#424242">7:23 PM</text>
<text transform="translate(669.43,149.80) rotate(-90)" text-anchor="end" font-size="5.85" fill="#424242">7:51 PM</text>
<text transform="translate(678.71,149.80) rotate(-90)" text-anchor="end" font-size="5.85" fill="#424242">8:44 PM</text>
<text transform="translate(353.80,73.85) rotate(-90)" text-anchor="middle" font-size="6.4" fill="#555">Loading</text>
<text x="525.3" y="182.9" text-anchor="middle" font-size="6.7" fill="#595959">Time</text>
<text class="cap" x="527.7" y="193.5" text-anchor="middle" font-size="10.2" fill="#000" stroke="#000" stroke-width="0.22">(b)</text>
<rect x="26.90" y="341.95" width="311.70" height="0.9" fill="#E7E7E7"/>
<text x="20.90" y="344.65" text-anchor="end" font-size="6.3" fill="#424242">50</text>
<rect x="26.90" y="327.65" width="311.70" height="0.9" fill="#E7E7E7"/>
<text x="20.90" y="330.35" text-anchor="end" font-size="6.3" fill="#424242">40</text>
<rect x="26.90" y="313.35" width="311.70" height="0.9" fill="#E7E7E7"/>
<text x="20.90" y="316.05" text-anchor="end" font-size="6.3" fill="#424242">30</text>
<rect x="26.90" y="299.05" width="311.70" height="0.9" fill="#E7E7E7"/>
<text x="20.90" y="301.75" text-anchor="end" font-size="6.3" fill="#424242">20</text>
<rect x="26.90" y="284.75" width="311.70" height="0.9" fill="#E7E7E7"/>
<text x="20.90" y="287.45" text-anchor="end" font-size="6.3" fill="#424242">10</text>
<rect x="26.90" y="270.45" width="311.70" height="0.9" fill="#E7E7E7"/>
<text x="20.90" y="273.15" text-anchor="end" font-size="6.3" fill="#424242">0</text>
<rect x="26.90" y="256.15" width="311.70" height="0.9" fill="#E7E7E7"/>
<text x="20.90" y="258.85" text-anchor="end" font-size="6.3" fill="#424242">10</text>
<rect x="26.90" y="241.85" width="311.70" height="0.9" fill="#E7E7E7"/>
<text x="20.90" y="244.55" text-anchor="end" font-size="6.3" fill="#424242">20</text>
<rect x="26.90" y="227.55" width="311.70" height="0.9" fill="#E7E7E7"/>
<text x="20.90" y="230.25" text-anchor="end" font-size="6.3" fill="#424242">30</text>
<rect x="26.90" y="213.25" width="311.70" height="0.9" fill="#E7E7E7"/>
<text x="20.90" y="215.95" text-anchor="end" font-size="6.3" fill="#424242">40</text>
<rect x="26.90" y="198.95" width="311.70" height="0.9" fill="#E7E7E7"/>
<text x="20.90" y="201.65" text-anchor="end" font-size="6.3" fill="#424242">50</text>
<rect x="36.50" y="262.72" width="1.0" height="8.58" fill="#5F97D0"/>
<rect x="38.36" y="258.43" width="1.0" height="12.87" fill="#EB8238"/>
<rect x="40.22" y="258.43" width="1.0" height="12.87" fill="#EB8238"/>
<rect x="42.07" y="258.43" width="1.0" height="12.87" fill="#EB8238"/>
<rect x="43.93" y="245.56" width="1.0" height="25.74" fill="#EB8238"/>
<rect x="45.78" y="245.56" width="1.0" height="25.74" fill="#EB8238"/>
<rect x="47.64" y="249.85" width="1.0" height="21.45" fill="#EB8238"/>
<rect x="49.49" y="259.86" width="1.0" height="11.44" fill="#EB8238"/>
<rect x="51.35" y="259.86" width="1.0" height="11.44" fill="#EB8238"/>
<rect x="53.20" y="259.86" width="1.0" height="11.44" fill="#EB8238"/>
<rect x="55.06" y="259.86" width="1.0" height="11.44" fill="#EB8238"/>
<rect x="56.91" y="259.86" width="1.0" height="11.44" fill="#EB8238"/>
<rect x="58.77" y="259.86" width="1.0" height="11.44" fill="#EB8238"/>
<rect x="60.62" y="259.86" width="1.0" height="11.44" fill="#EB8238"/>
<rect x="62.48" y="259.86" width="1.0" height="11.44" fill="#EB8238"/>
<rect x="64.33" y="261.29" width="1.0" height="10.01" fill="#5F97D0"/>
<rect x="64.33" y="224.11" width="1.0" height="37.18" fill="#EB8238"/>
<rect x="66.19" y="261.29" width="1.0" height="10.01" fill="#5F97D0"/>
<rect x="66.19" y="224.11" width="1.0" height="37.18" fill="#EB8238"/>
<rect x="68.05" y="261.29" width="1.0" height="10.01" fill="#5F97D0"/>
<rect x="68.05" y="224.11" width="1.0" height="37.18" fill="#EB8238"/>
<rect x="69.90" y="234.12" width="1.0" height="37.18" fill="#EB8238"/>
<rect x="71.76" y="234.12" width="1.0" height="37.18" fill="#EB8238"/>
<rect x="73.61" y="221.25" width="1.0" height="50.05" fill="#EB8238"/>
<rect x="75.47" y="221.25" width="1.0" height="50.05" fill="#EB8238"/>
<rect x="77.32" y="267.01" width="1.0" height="4.29" fill="#5F97D0"/>
<rect x="77.32" y="238.41" width="1.0" height="28.60" fill="#EB8238"/>
<rect x="79.18" y="267.01" width="1.0" height="4.29" fill="#5F97D0"/>
<rect x="79.18" y="232.69" width="1.0" height="34.32" fill="#EB8238"/>
<rect x="81.03" y="264.15" width="1.0" height="7.15" fill="#5F97D0"/>
<rect x="81.03" y="229.83" width="1.0" height="34.32" fill="#EB8238"/>
<rect x="82.89" y="268.44" width="1.0" height="2.86" fill="#5F97D0"/>
<rect x="82.89" y="231.26" width="1.0" height="37.18" fill="#EB8238"/>
<rect x="84.74" y="268.44" width="1.0" height="2.86" fill="#5F97D0"/>
<rect x="84.74" y="231.26" width="1.0" height="37.18" fill="#EB8238"/>
<rect x="86.60" y="268.44" width="1.0" height="2.86" fill="#5F97D0"/>
<rect x="86.60" y="222.68" width="1.0" height="45.76" fill="#EB8238"/>
<rect x="88.45" y="268.44" width="1.0" height="2.86" fill="#5F97D0"/>
<rect x="88.45" y="222.68" width="1.0" height="45.76" fill="#EB8238"/>
<rect x="90.31" y="268.44" width="1.0" height="2.86" fill="#5F97D0"/>
<rect x="90.31" y="222.68" width="1.0" height="45.76" fill="#EB8238"/>
<rect x="92.17" y="246.99" width="1.0" height="24.31" fill="#EB8238"/>
<rect x="94.02" y="246.99" width="1.0" height="24.31" fill="#EB8238"/>
<rect x="95.88" y="246.99" width="1.0" height="24.31" fill="#EB8238"/>
<rect x="97.73" y="246.99" width="1.0" height="24.31" fill="#EB8238"/>
<rect x="99.59" y="246.99" width="1.0" height="24.31" fill="#EB8238"/>
<rect x="101.44" y="251.28" width="1.0" height="20.02" fill="#EB8238"/>
<rect x="103.30" y="251.28" width="1.0" height="20.02" fill="#EB8238"/>
<rect x="105.15" y="269.87" width="1.0" height="1.43" fill="#5F97D0"/>
<rect x="105.15" y="242.70" width="1.0" height="27.17" fill="#EB8238"/>
<rect x="107.01" y="269.87" width="1.0" height="1.43" fill="#5F97D0"/>
<rect x="107.01" y="242.70" width="1.0" height="27.17" fill="#EB8238"/>
<rect x="108.86" y="248.42" width="1.0" height="22.88" fill="#EB8238"/>
<rect x="110.72" y="265.58" width="1.0" height="5.72" fill="#5F97D0"/>
<rect x="110.72" y="239.84" width="1.0" height="25.74" fill="#EB8238"/>
<rect x="112.57" y="265.58" width="1.0" height="5.72" fill="#5F97D0"/>
<rect x="112.57" y="222.68" width="1.0" height="42.90" fill="#EB8238"/>
<rect x="112.57" y="271.30" width="1.0" height="11.44" fill="#9A7DBF"/>
<rect x="114.43" y="265.58" width="1.0" height="5.72" fill="#5F97D0"/>
<rect x="114.43" y="222.68" width="1.0" height="42.90" fill="#EB8238"/>
<rect x="116.28" y="265.58" width="1.0" height="5.72" fill="#5F97D0"/>
<rect x="116.28" y="222.68" width="1.0" height="42.90" fill="#EB8238"/>
<rect x="118.14" y="265.58" width="1.0" height="5.72" fill="#5F97D0"/>
<rect x="118.14" y="219.82" width="1.0" height="45.76" fill="#EB8238"/>
<rect x="120.00" y="265.58" width="1.0" height="5.72" fill="#5F97D0"/>
<rect x="120.00" y="222.68" width="1.0" height="42.90" fill="#EB8238"/>
<rect x="121.85" y="265.58" width="1.0" height="5.72" fill="#5F97D0"/>
<rect x="121.85" y="222.68" width="1.0" height="42.90" fill="#EB8238"/>
<rect x="123.71" y="265.58" width="1.0" height="5.72" fill="#5F97D0"/>
<rect x="123.71" y="222.68" width="1.0" height="42.90" fill="#EB8238"/>
<rect x="123.71" y="271.30" width="1.0" height="7.15" fill="#9A7DBF"/>
<rect x="125.56" y="265.58" width="1.0" height="5.72" fill="#5F97D0"/>
<rect x="125.56" y="204.09" width="1.0" height="61.49" fill="#EB8238"/>
<rect x="125.56" y="271.30" width="1.0" height="7.15" fill="#9A7DBF"/>
<rect x="127.42" y="211.24" width="1.0" height="60.06" fill="#EB8238"/>
<rect x="129.27" y="218.39" width="1.0" height="52.91" fill="#EB8238"/>
<rect x="131.13" y="209.81" width="1.0" height="61.49" fill="#EB8238"/>
<rect x="132.98" y="226.97" width="1.0" height="44.33" fill="#EB8238"/>
<rect x="134.84" y="226.97" width="1.0" height="44.33" fill="#EB8238"/>
<rect x="136.69" y="232.69" width="1.0" height="38.61" fill="#EB8238"/>
<rect x="138.55" y="222.68" width="1.0" height="48.62" fill="#EB8238"/>
<rect x="140.40" y="222.68" width="1.0" height="48.62" fill="#EB8238"/>
<rect x="142.26" y="244.13" width="1.0" height="27.17" fill="#EB8238"/>
<rect x="144.12" y="232.69" width="1.0" height="38.61" fill="#EB8238"/>
<rect x="145.97" y="244.13" width="1.0" height="27.17" fill="#EB8238"/>
<rect x="147.83" y="244.13" width="1.0" height="27.17" fill="#EB8238"/>
<rect x="149.68" y="244.13" width="1.0" height="27.17" fill="#EB8238"/>
<rect x="151.54" y="232.69" width="1.0" height="38.61" fill="#EB8238"/>
<rect x="151.54" y="271.30" width="1.0" height="8.58" fill="#9A7DBF"/>
<rect x="153.39" y="234.12" width="1.0" height="37.18" fill="#EB8238"/>
<rect x="153.39" y="271.30" width="1.0" height="8.58" fill="#9A7DBF"/>
<rect x="155.25" y="224.11" width="1.0" height="47.19" fill="#EB8238"/>
<rect x="155.25" y="271.30" width="1.0" height="12.87" fill="#9A7DBF"/>
<rect x="157.10" y="224.11" width="1.0" height="47.19" fill="#EB8238"/>
<rect x="157.10" y="271.30" width="1.0" height="12.87" fill="#9A7DBF"/>
<rect x="158.96" y="255.57" width="1.0" height="15.73" fill="#EB8238"/>
<rect x="158.96" y="271.30" width="1.0" height="18.59" fill="#9A7DBF"/>
<rect x="160.81" y="255.57" width="1.0" height="15.73" fill="#EB8238"/>
<rect x="160.81" y="271.30" width="1.0" height="18.59" fill="#9A7DBF"/>
<rect x="162.67" y="255.57" width="1.0" height="15.73" fill="#EB8238"/>
<rect x="162.67" y="271.30" width="1.0" height="4.29" fill="#9A7DBF"/>
<rect x="164.52" y="265.58" width="1.0" height="5.72" fill="#EB8238"/>
<rect x="164.52" y="271.30" width="1.0" height="30.03" fill="#9A7DBF"/>
<rect x="166.38" y="248.42" width="1.0" height="22.88" fill="#EB8238"/>
<rect x="166.38" y="271.30" width="1.0" height="45.76" fill="#9A7DBF"/>
<rect x="168.23" y="248.42" width="1.0" height="22.88" fill="#EB8238"/>
<rect x="170.09" y="234.12" width="1.0" height="37.18" fill="#EB8238"/>
<rect x="171.95" y="221.25" width="1.0" height="50.05" fill="#EB8238"/>
<rect x="173.80" y="235.55" width="1.0" height="35.75" fill="#EB8238"/>
<rect x="175.66" y="224.11" width="1.0" height="47.19" fill="#EB8238"/>
<rect x="177.51" y="218.39" width="1.0" height="52.91" fill="#EB8238"/>
<rect x="179.37" y="241.27" width="1.0" height="30.03" fill="#EB8238"/>
<rect x="181.22" y="242.70" width="1.0" height="28.60" fill="#EB8238"/>
<rect x="183.08" y="242.70" width="1.0" height="28.60" fill="#EB8238"/>
<rect x="184.93" y="234.12" width="1.0" height="37.18" fill="#EB8238"/>
<rect x="186.79" y="239.84" width="1.0" height="31.46" fill="#EB8238"/>
<rect x="188.64" y="249.85" width="1.0" height="21.45" fill="#EB8238"/>
<rect x="190.50" y="249.85" width="1.0" height="21.45" fill="#EB8238"/>
<rect x="192.35" y="249.85" width="1.0" height="21.45" fill="#EB8238"/>
<rect x="194.21" y="249.85" width="1.0" height="21.45" fill="#EB8238"/>
<rect x="196.07" y="249.85" width="1.0" height="21.45" fill="#EB8238"/>
<rect x="197.92" y="235.55" width="1.0" height="35.75" fill="#EB8238"/>
<rect x="199.78" y="257.00" width="1.0" height="14.30" fill="#EB8238"/>
<rect x="201.63" y="259.86" width="1.0" height="11.44" fill="#5F97D0"/>
<rect x="201.63" y="241.27" width="1.0" height="18.59" fill="#EB8238"/>
<rect x="203.49" y="259.86" width="1.0" height="11.44" fill="#5F97D0"/>
<rect x="203.49" y="241.27" width="1.0" height="18.59" fill="#EB8238"/>
<rect x="205.34" y="259.86" width="1.0" height="11.44" fill="#5F97D0"/>
<rect x="205.34" y="241.27" width="1.0" height="18.59" fill="#EB8238"/>
<rect x="207.20" y="254.14" width="1.0" height="17.16" fill="#5F97D0"/>
<rect x="207.20" y="246.99" width="1.0" height="7.15" fill="#EB8238"/>
<rect x="209.05" y="254.14" width="1.0" height="17.16" fill="#5F97D0"/>
<rect x="209.05" y="246.99" width="1.0" height="7.15" fill="#EB8238"/>
<rect x="210.91" y="254.14" width="1.0" height="17.16" fill="#5F97D0"/>
<rect x="210.91" y="231.26" width="1.0" height="22.88" fill="#EB8238"/>
<rect x="212.76" y="261.29" width="1.0" height="10.01" fill="#EB8238"/>
<rect x="214.62" y="261.29" width="1.0" height="10.01" fill="#EB8238"/>
<rect x="216.47" y="261.29" width="1.0" height="10.01" fill="#EB8238"/>
<rect x="218.33" y="261.29" width="1.0" height="10.01" fill="#EB8238"/>
<rect x="220.18" y="261.29" width="1.0" height="10.01" fill="#EB8238"/>
<rect x="220.18" y="271.30" width="1.0" height="7.15" fill="#9A7DBF"/>
<rect x="222.04" y="261.29" width="1.0" height="10.01" fill="#EB8238"/>
<rect x="222.04" y="271.30" width="1.0" height="7.15" fill="#9A7DBF"/>
<rect x="223.90" y="261.29" width="1.0" height="10.01" fill="#EB8238"/>
<rect x="223.90" y="271.30" width="1.0" height="7.15" fill="#9A7DBF"/>
<rect x="225.75" y="236.98" width="1.0" height="34.32" fill="#EB8238"/>
<rect x="225.75" y="271.30" width="1.0" height="7.15" fill="#9A7DBF"/>
<rect x="227.61" y="236.98" width="1.0" height="34.32" fill="#EB8238"/>
<rect x="229.46" y="236.98" width="1.0" height="34.32" fill="#EB8238"/>
<rect x="231.32" y="236.98" width="1.0" height="34.32" fill="#EB8238"/>
<rect x="233.17" y="236.98" width="1.0" height="34.32" fill="#EB8238"/>
<rect x="233.17" y="271.30" width="1.0" height="10.01" fill="#9A7DBF"/>
<rect x="235.03" y="224.11" width="1.0" height="47.19" fill="#EB8238"/>
<rect x="235.03" y="271.30" width="1.0" height="10.01" fill="#9A7DBF"/>
<rect x="236.88" y="224.11" width="1.0" height="47.19" fill="#EB8238"/>
<rect x="236.88" y="271.30" width="1.0" height="10.01" fill="#9A7DBF"/>
<rect x="238.74" y="224.11" width="1.0" height="47.19" fill="#EB8238"/>
<rect x="238.74" y="271.30" width="1.0" height="10.01" fill="#9A7DBF"/>
<rect x="240.59" y="241.27" width="1.0" height="30.03" fill="#EB8238"/>
<rect x="240.59" y="271.30" width="1.0" height="10.01" fill="#9A7DBF"/>
<rect x="242.45" y="234.12" width="1.0" height="37.18" fill="#EB8238"/>
<rect x="244.30" y="264.15" width="1.0" height="7.15" fill="#5F97D0"/>
<rect x="244.30" y="228.40" width="1.0" height="35.75" fill="#EB8238"/>
<rect x="244.30" y="271.30" width="1.0" height="1.43" fill="#9A7DBF"/>
<rect x="246.16" y="235.55" width="1.0" height="35.75" fill="#EB8238"/>
<rect x="246.16" y="271.30" width="1.0" height="1.43" fill="#9A7DBF"/>
<rect x="248.02" y="268.44" width="1.0" height="2.86" fill="#EB8238"/>
<rect x="249.87" y="268.44" width="1.0" height="2.86" fill="#EB8238"/>
<rect x="251.73" y="268.44" width="1.0" height="2.86" fill="#EB8238"/>
<rect x="253.58" y="268.44" width="1.0" height="2.86" fill="#EB8238"/>
<rect x="255.44" y="245.56" width="1.0" height="25.74" fill="#EB8238"/>
<rect x="257.29" y="244.13" width="1.0" height="27.17" fill="#EB8238"/>
<rect x="259.15" y="257.00" width="1.0" height="14.30" fill="#EB8238"/>
<rect x="261.00" y="257.00" width="1.0" height="14.30" fill="#EB8238"/>
<rect x="262.86" y="257.00" width="1.0" height="14.30" fill="#EB8238"/>
<rect x="264.71" y="257.00" width="1.0" height="14.30" fill="#EB8238"/>
<rect x="266.57" y="257.00" width="1.0" height="14.30" fill="#EB8238"/>
<rect x="268.42" y="257.00" width="1.0" height="14.30" fill="#EB8238"/>
<rect x="270.28" y="257.00" width="1.0" height="14.30" fill="#EB8238"/>
<rect x="272.13" y="216.96" width="1.0" height="54.34" fill="#EB8238"/>
<rect x="273.99" y="219.82" width="1.0" height="51.48" fill="#EB8238"/>
<rect x="275.85" y="199.80" width="1.0" height="71.50" fill="#EB8238"/>
<rect x="277.70" y="199.80" width="1.0" height="71.50" fill="#EB8238"/>
<rect x="279.56" y="225.54" width="1.0" height="45.76" fill="#EB8238"/>
<rect x="281.41" y="225.54" width="1.0" height="45.76" fill="#EB8238"/>
<rect x="283.27" y="244.13" width="1.0" height="27.17" fill="#EB8238"/>
<rect x="285.12" y="244.13" width="1.0" height="27.17" fill="#EB8238"/>
<rect x="285.12" y="271.30" width="1.0" height="12.87" fill="#9A7DBF"/>
<rect x="286.98" y="244.13" width="1.0" height="27.17" fill="#EB8238"/>
<rect x="286.98" y="271.30" width="1.0" height="12.87" fill="#9A7DBF"/>
<rect x="288.83" y="244.13" width="1.0" height="27.17" fill="#EB8238"/>
<rect x="288.83" y="271.30" width="1.0" height="12.87" fill="#9A7DBF"/>
<rect x="290.69" y="244.13" width="1.0" height="27.17" fill="#EB8238"/>
<rect x="290.69" y="271.30" width="1.0" height="12.87" fill="#9A7DBF"/>
<rect x="292.54" y="244.13" width="1.0" height="27.17" fill="#EB8238"/>
<rect x="292.54" y="271.30" width="1.0" height="12.87" fill="#9A7DBF"/>
<rect x="294.40" y="244.13" width="1.0" height="27.17" fill="#EB8238"/>
<rect x="294.40" y="271.30" width="1.0" height="12.87" fill="#9A7DBF"/>
<rect x="296.25" y="238.41" width="1.0" height="32.89" fill="#EB8238"/>
<rect x="298.11" y="238.41" width="1.0" height="32.89" fill="#EB8238"/>
<rect x="299.97" y="238.41" width="1.0" height="32.89" fill="#EB8238"/>
<rect x="301.82" y="238.41" width="1.0" height="32.89" fill="#EB8238"/>
<rect x="303.68" y="238.41" width="1.0" height="32.89" fill="#EB8238"/>
<rect x="305.53" y="238.41" width="1.0" height="32.89" fill="#EB8238"/>
<rect x="307.39" y="238.41" width="1.0" height="32.89" fill="#EB8238"/>
<rect x="309.24" y="238.41" width="1.0" height="32.89" fill="#EB8238"/>
<rect x="309.24" y="271.30" width="1.0" height="8.58" fill="#9A7DBF"/>
<rect x="311.10" y="252.71" width="1.0" height="18.59" fill="#EB8238"/>
<rect x="311.10" y="271.30" width="1.0" height="2.86" fill="#9A7DBF"/>
<rect x="312.95" y="241.27" width="1.0" height="30.03" fill="#EB8238"/>
<rect x="314.81" y="241.27" width="1.0" height="30.03" fill="#EB8238"/>
<rect x="316.66" y="241.27" width="1.0" height="30.03" fill="#EB8238"/>
<rect x="318.52" y="241.27" width="1.0" height="30.03" fill="#EB8238"/>
<rect x="320.37" y="221.25" width="1.0" height="50.05" fill="#EB8238"/>
<rect x="322.23" y="232.69" width="1.0" height="38.61" fill="#EB8238"/>
<rect x="324.08" y="232.69" width="1.0" height="38.61" fill="#EB8238"/>
<rect x="325.94" y="232.69" width="1.0" height="38.61" fill="#EB8238"/>
<rect x="327.80" y="232.69" width="1.0" height="38.61" fill="#EB8238"/>
<rect x="329.65" y="201.23" width="1.0" height="70.07" fill="#EB8238"/>
<rect x="329.65" y="271.30" width="1.0" height="11.44" fill="#9A7DBF"/>
<rect x="331.51" y="259.86" width="1.0" height="11.44" fill="#EB8238"/>
<rect x="331.51" y="271.30" width="1.0" height="22.88" fill="#9A7DBF"/>
<rect x="333.36" y="259.86" width="1.0" height="11.44" fill="#EB8238"/>
<rect x="333.36" y="271.30" width="1.0" height="22.88" fill="#9A7DBF"/>
<rect x="335.22" y="259.86" width="1.0" height="11.44" fill="#EB8238"/>
<rect x="335.22" y="271.30" width="1.0" height="22.88" fill="#9A7DBF"/>
<text transform="translate(30.08,346.85) rotate(-90)" text-anchor="end" font-size="5.85" fill="#424242">6:02 AM</text>
<text transform="translate(39.35,346.85) rotate(-90)" text-anchor="end" font-size="5.85" fill="#424242">6:26 AM</text>
<text transform="translate(48.63,346.85) rotate(-90)" text-anchor="end" font-size="5.85" fill="#424242">6:54 AM</text>
<text transform="translate(57.91,346.85) rotate(-90)" text-anchor="end" font-size="5.85" fill="#424242">7:29 AM</text>
<text transform="translate(67.18,346.85) rotate(-90)" text-anchor="end" font-size="5.85" fill="#424242">7:45 AM</text>
<text transform="translate(76.46,346.85) rotate(-90)" text-anchor="end" font-size="5.85" fill="#424242">8:10 AM</text>
<text transform="translate(85.74,346.85) rotate(-90)" text-anchor="end" font-size="5.85" fill="#424242">8:33 AM</text>
<text transform="translate(95.02,346.85) rotate(-90)" text-anchor="end" font-size="5.85" fill="#424242">8:58 AM</text>
<text transform="translate(104.29,346.85) rotate(-90)" text-anchor="end" font-size="5.85" fill="#424242">9:22 AM</text>
<text transform="translate(113.57,346.85) rotate(-90)" text-anchor="end" font-size="5.85" fill="#424242">9:41 AM</text>
<text transform="translate(122.85,346.85) rotate(-90)" text-anchor="end" font-size="5.85" fill="#424242">10:15 AM</text>
<text transform="translate(132.12,346.85) rotate(-90)" text-anchor="end" font-size="5.85" fill="#424242">10:46 AM</text>
<text transform="translate(141.40,346.85) rotate(-90)" text-anchor="end" font-size="5.85" fill="#424242">11:05 AM</text>
<text transform="translate(150.68,346.85) rotate(-90)" text-anchor="end" font-size="5.85" fill="#424242">11:15 AM</text>
<text transform="translate(159.95,346.85) rotate(-90)" text-anchor="end" font-size="5.85" fill="#424242">11:37 AM</text>
<text transform="translate(169.23,346.85) rotate(-90)" text-anchor="end" font-size="5.85" fill="#424242">12:07 PM</text>
<text transform="translate(178.51,346.85) rotate(-90)" text-anchor="end" font-size="5.85" fill="#424242">12:48 PM</text>
<text transform="translate(187.78,346.85) rotate(-90)" text-anchor="end" font-size="5.85" fill="#424242">1:17 PM</text>
<text transform="translate(197.06,346.85) rotate(-90)" text-anchor="end" font-size="5.85" fill="#424242">1:46 PM</text>
<text transform="translate(206.34,346.85) rotate(-90)" text-anchor="end" font-size="5.85" fill="#424242">2:01 PM</text>
<text transform="translate(215.61,346.85) rotate(-90)" text-anchor="end" font-size="5.85" fill="#424242">2:22 PM</text>
<text transform="translate(224.89,346.85) rotate(-90)" text-anchor="end" font-size="5.85" fill="#424242">2:41 PM</text>
<text transform="translate(234.17,346.85) rotate(-90)" text-anchor="end" font-size="5.85" fill="#424242">2:48 PM</text>
<text transform="translate(243.44,346.85) rotate(-90)" text-anchor="end" font-size="5.85" fill="#424242">3:06 PM</text>
<text transform="translate(252.72,346.85) rotate(-90)" text-anchor="end" font-size="5.85" fill="#424242">3:34 PM</text>
<text transform="translate(262.00,346.85) rotate(-90)" text-anchor="end" font-size="5.85" fill="#424242">4:06 PM</text>
<text transform="translate(271.27,346.85) rotate(-90)" text-anchor="end" font-size="5.85" fill="#424242">4:27 PM</text>
<text transform="translate(280.55,346.85) rotate(-90)" text-anchor="end" font-size="5.85" fill="#424242">5:32 PM</text>
<text transform="translate(289.83,346.85) rotate(-90)" text-anchor="end" font-size="5.85" fill="#424242">5:57 PM</text>
<text transform="translate(299.10,346.85) rotate(-90)" text-anchor="end" font-size="5.85" fill="#424242">6:23 PM</text>
<text transform="translate(308.38,346.85) rotate(-90)" text-anchor="end" font-size="5.85" fill="#424242">6:33 PM</text>
<text transform="translate(317.66,346.85) rotate(-90)" text-anchor="end" font-size="5.85" fill="#424242">7:23 PM</text>
<text transform="translate(326.93,346.85) rotate(-90)" text-anchor="end" font-size="5.85" fill="#424242">7:51 PM</text>
<text transform="translate(336.21,346.85) rotate(-90)" text-anchor="end" font-size="5.85" fill="#424242">8:44 PM</text>
<text transform="translate(11.30,270.90) rotate(-90)" text-anchor="middle" font-size="6.4" fill="#555">Loading</text>
<text x="182.9" y="380.2" text-anchor="middle" font-size="6.7" fill="#595959">Time</text>
<text class="cap" x="180.8" y="395.2" text-anchor="middle" font-size="10.2" fill="#000" stroke="#000" stroke-width="0.22">(c)</text>
<rect x="369.40" y="341.95" width="311.70" height="0.9" fill="#E7E7E7"/>
<text x="363.30" y="344.65" text-anchor="end" font-size="6.3" fill="#424242">50</text>
<rect x="369.40" y="327.65" width="311.70" height="0.9" fill="#E7E7E7"/>
<text x="363.30" y="330.35" text-anchor="end" font-size="6.3" fill="#424242">40</text>
<rect x="369.40" y="313.35" width="311.70" height="0.9" fill="#E7E7E7"/>
<text x="363.30" y="316.05" text-anchor="end" font-size="6.3" fill="#424242">30</text>
<rect x="369.40" y="299.05" width="311.70" height="0.9" fill="#E7E7E7"/>
<text x="363.30" y="301.75" text-anchor="end" font-size="6.3" fill="#424242">20</text>
<rect x="369.40" y="284.75" width="311.70" height="0.9" fill="#E7E7E7"/>
<text x="363.30" y="287.45" text-anchor="end" font-size="6.3" fill="#424242">10</text>
<rect x="369.40" y="270.45" width="311.70" height="0.9" fill="#E7E7E7"/>
<text x="363.30" y="273.15" text-anchor="end" font-size="6.3" fill="#424242">0</text>
<rect x="369.40" y="256.15" width="311.70" height="0.9" fill="#E7E7E7"/>
<text x="363.30" y="258.85" text-anchor="end" font-size="6.3" fill="#424242">10</text>
<rect x="369.40" y="241.85" width="311.70" height="0.9" fill="#E7E7E7"/>
<text x="363.30" y="244.55" text-anchor="end" font-size="6.3" fill="#424242">20</text>
<rect x="369.40" y="227.55" width="311.70" height="0.9" fill="#E7E7E7"/>
<text x="363.30" y="230.25" text-anchor="end" font-size="6.3" fill="#424242">30</text>
<rect x="369.40" y="213.25" width="311.70" height="0.9" fill="#E7E7E7"/>
<text x="363.30" y="215.95" text-anchor="end" font-size="6.3" fill="#424242">40</text>
<rect x="369.40" y="198.95" width="311.70" height="0.9" fill="#E7E7E7"/>
<text x="363.30" y="201.65" text-anchor="end" font-size="6.3" fill="#424242">50</text>
<rect x="375.29" y="271.00" width="1.0" height="8.58" fill="#A2C36B"/>
<rect x="377.15" y="271.00" width="1.0" height="8.58" fill="#A2C36B"/>
<rect x="379.00" y="271.00" width="1.0" height="8.58" fill="#A2C36B"/>
<rect x="380.86" y="246.69" width="1.0" height="24.31" fill="#EB8238"/>
<rect x="382.72" y="246.69" width="1.0" height="24.31" fill="#EB8238"/>
<rect x="384.57" y="246.69" width="1.0" height="24.31" fill="#EB8238"/>
<rect x="386.43" y="233.82" width="1.0" height="37.18" fill="#EB8238"/>
<rect x="388.28" y="233.82" width="1.0" height="37.18" fill="#EB8238"/>
<rect x="390.14" y="235.25" width="1.0" height="35.75" fill="#EB8238"/>
<rect x="391.99" y="235.25" width="1.0" height="35.75" fill="#EB8238"/>
<rect x="393.85" y="249.55" width="1.0" height="21.45" fill="#EB8238"/>
<rect x="393.85" y="271.00" width="1.0" height="4.29" fill="#A2C36B"/>
<rect x="395.70" y="249.55" width="1.0" height="21.45" fill="#EB8238"/>
<rect x="395.70" y="271.00" width="1.0" height="4.29" fill="#A2C36B"/>
<rect x="397.56" y="249.55" width="1.0" height="21.45" fill="#EB8238"/>
<rect x="397.56" y="271.00" width="1.0" height="4.29" fill="#A2C36B"/>
<rect x="399.41" y="223.81" width="1.0" height="47.19" fill="#EB8238"/>
<rect x="399.41" y="271.00" width="1.0" height="4.29" fill="#A2C36B"/>
<rect x="401.27" y="223.81" width="1.0" height="47.19" fill="#EB8238"/>
<rect x="401.27" y="271.00" width="1.0" height="14.30" fill="#A2C36B"/>
<rect x="403.12" y="229.53" width="1.0" height="41.47" fill="#EB8238"/>
<rect x="403.12" y="271.00" width="1.0" height="14.30" fill="#A2C36B"/>
<rect x="404.98" y="229.53" width="1.0" height="41.47" fill="#EB8238"/>
<rect x="404.98" y="271.00" width="1.0" height="14.30" fill="#A2C36B"/>
<rect x="406.83" y="229.53" width="1.0" height="41.47" fill="#EB8238"/>
<rect x="406.83" y="271.00" width="1.0" height="14.30" fill="#A2C36B"/>
<rect x="408.69" y="229.53" width="1.0" height="41.47" fill="#EB8238"/>
<rect x="408.69" y="271.00" width="1.0" height="14.30" fill="#A2C36B"/>
<rect x="410.55" y="229.53" width="1.0" height="41.47" fill="#EB8238"/>
<rect x="410.55" y="271.00" width="1.0" height="10.01" fill="#A2C36B"/>
<rect x="412.40" y="222.38" width="1.0" height="48.62" fill="#EB8238"/>
<rect x="414.26" y="222.38" width="1.0" height="48.62" fill="#EB8238"/>
<rect x="416.11" y="222.38" width="1.0" height="48.62" fill="#EB8238"/>
<rect x="417.97" y="222.38" width="1.0" height="48.62" fill="#EB8238"/>
<rect x="417.97" y="271.00" width="1.0" height="4.29" fill="#A2C36B"/>
<rect x="419.82" y="233.82" width="1.0" height="37.18" fill="#EB8238"/>
<rect x="419.82" y="271.00" width="1.0" height="4.29" fill="#A2C36B"/>
<rect x="421.68" y="233.82" width="1.0" height="37.18" fill="#EB8238"/>
<rect x="423.53" y="233.82" width="1.0" height="37.18" fill="#EB8238"/>
<rect x="423.53" y="271.00" width="1.0" height="2.86" fill="#A2C36B"/>
<rect x="425.39" y="216.66" width="1.0" height="54.34" fill="#EB8238"/>
<rect x="425.39" y="271.00" width="1.0" height="2.86" fill="#A2C36B"/>
<rect x="427.24" y="216.66" width="1.0" height="54.34" fill="#EB8238"/>
<rect x="427.24" y="271.00" width="1.0" height="2.86" fill="#A2C36B"/>
<rect x="429.10" y="225.24" width="1.0" height="45.76" fill="#EB8238"/>
<rect x="429.10" y="271.00" width="1.0" height="2.86" fill="#A2C36B"/>
<rect x="430.95" y="225.24" width="1.0" height="45.76" fill="#EB8238"/>
<rect x="432.81" y="225.24" width="1.0" height="45.76" fill="#EB8238"/>
<rect x="434.67" y="202.36" width="1.0" height="68.64" fill="#EB8238"/>
<rect x="434.67" y="271.00" width="1.0" height="1.43" fill="#A2C36B"/>
<rect x="436.52" y="208.08" width="1.0" height="62.92" fill="#EB8238"/>
<rect x="438.38" y="199.50" width="1.0" height="71.50" fill="#EB8238"/>
<rect x="440.23" y="199.50" width="1.0" height="71.50" fill="#EB8238"/>
<rect x="442.09" y="220.95" width="1.0" height="50.05" fill="#EB8238"/>
<rect x="443.94" y="209.51" width="1.0" height="61.49" fill="#EB8238"/>
<rect x="443.94" y="271.00" width="1.0" height="1.43" fill="#A2C36B"/>
<rect x="445.80" y="209.51" width="1.0" height="61.49" fill="#EB8238"/>
<rect x="447.65" y="209.51" width="1.0" height="61.49" fill="#EB8238"/>
<rect x="449.51" y="209.51" width="1.0" height="61.49" fill="#EB8238"/>
<rect x="451.36" y="216.66" width="1.0" height="54.34" fill="#EB8238"/>
<rect x="451.36" y="271.00" width="1.0" height="5.72" fill="#A2C36B"/>
<rect x="453.22" y="209.51" width="1.0" height="61.49" fill="#EB8238"/>
<rect x="453.22" y="271.00" width="1.0" height="11.44" fill="#A2C36B"/>
<rect x="455.07" y="248.12" width="1.0" height="22.88" fill="#EB8238"/>
<rect x="456.93" y="249.55" width="1.0" height="21.45" fill="#EB8238"/>
<rect x="458.78" y="239.54" width="1.0" height="31.46" fill="#EB8238"/>
<rect x="460.64" y="249.55" width="1.0" height="21.45" fill="#EB8238"/>
<rect x="462.50" y="235.25" width="1.0" height="35.75" fill="#EB8238"/>
<rect x="462.50" y="271.00" width="1.0" height="5.72" fill="#A2C36B"/>
<rect x="464.35" y="235.25" width="1.0" height="35.75" fill="#EB8238"/>
<rect x="466.21" y="235.25" width="1.0" height="35.75" fill="#EB8238"/>
<rect x="468.06" y="235.25" width="1.0" height="35.75" fill="#EB8238"/>
<rect x="469.92" y="219.52" width="1.0" height="51.48" fill="#EB8238"/>
<rect x="471.77" y="216.66" width="1.0" height="54.34" fill="#EB8238"/>
<rect x="473.63" y="229.53" width="1.0" height="41.47" fill="#EB8238"/>
<rect x="475.48" y="220.95" width="1.0" height="50.05" fill="#EB8238"/>
<rect x="477.34" y="220.95" width="1.0" height="50.05" fill="#EB8238"/>
<rect x="479.19" y="220.95" width="1.0" height="50.05" fill="#EB8238"/>
<rect x="481.05" y="220.95" width="1.0" height="50.05" fill="#EB8238"/>
<rect x="482.90" y="220.95" width="1.0" height="50.05" fill="#EB8238"/>
<rect x="484.76" y="220.95" width="1.0" height="50.05" fill="#EB8238"/>
<rect x="486.62" y="229.53" width="1.0" height="41.47" fill="#EB8238"/>
<rect x="488.47" y="229.53" width="1.0" height="41.47" fill="#EB8238"/>
<rect x="490.33" y="229.53" width="1.0" height="41.47" fill="#EB8238"/>
<rect x="492.18" y="229.53" width="1.0" height="41.47" fill="#EB8238"/>
<rect x="494.04" y="229.53" width="1.0" height="41.47" fill="#EB8238"/>
<rect x="495.89" y="232.39" width="1.0" height="38.61" fill="#EB8238"/>
<rect x="497.75" y="262.42" width="1.0" height="8.58" fill="#EB8238"/>
<rect x="499.60" y="262.42" width="1.0" height="8.58" fill="#EB8238"/>
<rect x="501.46" y="250.98" width="1.0" height="20.02" fill="#EB8238"/>
<rect x="503.31" y="268.14" width="1.0" height="2.86" fill="#EB8238"/>
<rect x="505.17" y="269.57" width="1.0" height="1.43" fill="#EB8238"/>
<rect x="507.02" y="265.28" width="1.0" height="5.72" fill="#EB8238"/>
<rect x="507.02" y="271.00" width="1.0" height="2.86" fill="#A2C36B"/>
<rect x="508.88" y="253.84" width="1.0" height="17.16" fill="#EB8238"/>
<rect x="508.88" y="271.00" width="1.0" height="2.86" fill="#A2C36B"/>
<rect x="510.73" y="229.53" width="1.0" height="41.47" fill="#EB8238"/>
<rect x="510.73" y="271.00" width="1.0" height="2.86" fill="#A2C36B"/>
<rect x="512.59" y="255.27" width="1.0" height="15.73" fill="#EB8238"/>
<rect x="514.45" y="255.27" width="1.0" height="15.73" fill="#EB8238"/>
<rect x="516.30" y="255.27" width="1.0" height="15.73" fill="#EB8238"/>
<rect x="518.16" y="252.41" width="1.0" height="18.59" fill="#EB8238"/>
<rect x="520.01" y="245.26" width="1.0" height="25.74" fill="#EB8238"/>
<rect x="521.87" y="245.26" width="1.0" height="25.74" fill="#EB8238"/>
<rect x="523.72" y="256.70" width="1.0" height="14.30" fill="#EB8238"/>
<rect x="525.58" y="256.70" width="1.0" height="14.30" fill="#EB8238"/>
<rect x="527.43" y="245.26" width="1.0" height="25.74" fill="#EB8238"/>
<rect x="529.29" y="236.68" width="1.0" height="34.32" fill="#EB8238"/>
<rect x="531.14" y="240.97" width="1.0" height="30.03" fill="#EB8238"/>
<rect x="533.00" y="240.97" width="1.0" height="30.03" fill="#EB8238"/>
<rect x="534.85" y="240.97" width="1.0" height="30.03" fill="#EB8238"/>
<rect x="536.71" y="240.97" width="1.0" height="30.03" fill="#EB8238"/>
<rect x="538.57" y="240.97" width="1.0" height="30.03" fill="#EB8238"/>
<rect x="540.42" y="226.67" width="1.0" height="44.33" fill="#EB8238"/>
<rect x="542.28" y="243.83" width="1.0" height="27.17" fill="#EB8238"/>
<rect x="544.13" y="255.27" width="1.0" height="15.73" fill="#EB8238"/>
<rect x="545.99" y="255.27" width="1.0" height="15.73" fill="#EB8238"/>
<rect x="547.84" y="255.27" width="1.0" height="15.73" fill="#EB8238"/>
<rect x="549.70" y="236.68" width="1.0" height="34.32" fill="#EB8238"/>
<rect x="549.70" y="271.00" width="1.0" height="11.44" fill="#A2C36B"/>
<rect x="551.55" y="245.26" width="1.0" height="25.74" fill="#EB8238"/>
<rect x="551.55" y="271.00" width="1.0" height="11.44" fill="#A2C36B"/>
<rect x="553.41" y="258.13" width="1.0" height="12.87" fill="#EB8238"/>
<rect x="555.26" y="258.13" width="1.0" height="12.87" fill="#EB8238"/>
<rect x="557.12" y="242.40" width="1.0" height="28.60" fill="#EB8238"/>
<rect x="558.97" y="242.40" width="1.0" height="28.60" fill="#EB8238"/>
<rect x="560.83" y="242.40" width="1.0" height="28.60" fill="#EB8238"/>
<rect x="562.68" y="242.40" width="1.0" height="28.60" fill="#EB8238"/>
<rect x="564.54" y="249.55" width="1.0" height="21.45" fill="#EB8238"/>
<rect x="566.40" y="249.55" width="1.0" height="21.45" fill="#EB8238"/>
<rect x="568.25" y="249.55" width="1.0" height="21.45" fill="#EB8238"/>
<rect x="570.11" y="249.55" width="1.0" height="21.45" fill="#EB8238"/>
<rect x="571.96" y="235.25" width="1.0" height="35.75" fill="#EB8238"/>
<rect x="573.82" y="235.25" width="1.0" height="35.75" fill="#EB8238"/>
<rect x="575.67" y="235.25" width="1.0" height="35.75" fill="#EB8238"/>
<rect x="577.53" y="235.25" width="1.0" height="35.75" fill="#EB8238"/>
<rect x="579.38" y="235.25" width="1.0" height="35.75" fill="#EB8238"/>
<rect x="581.24" y="242.40" width="1.0" height="28.60" fill="#EB8238"/>
<rect x="583.09" y="242.40" width="1.0" height="28.60" fill="#EB8238"/>
<rect x="584.95" y="242.40" width="1.0" height="28.60" fill="#EB8238"/>
<rect x="584.95" y="271.00" width="1.0" height="5.72" fill="#A2C36B"/>
<rect x="586.80" y="232.39" width="1.0" height="38.61" fill="#EB8238"/>
<rect x="586.80" y="271.00" width="1.0" height="8.58" fill="#A2C36B"/>
<rect x="588.66" y="232.39" width="1.0" height="38.61" fill="#EB8238"/>
<rect x="588.66" y="271.00" width="1.0" height="15.73" fill="#A2C36B"/>
<rect x="590.52" y="209.51" width="1.0" height="61.49" fill="#EB8238"/>
<rect x="592.37" y="209.51" width="1.0" height="61.49" fill="#EB8238"/>
<rect x="594.23" y="209.51" width="1.0" height="61.49" fill="#EB8238"/>
<rect x="596.08" y="209.51" width="1.0" height="61.49" fill="#EB8238"/>
<rect x="597.94" y="232.39" width="1.0" height="38.61" fill="#EB8238"/>
<rect x="599.79" y="232.39" width="1.0" height="38.61" fill="#EB8238"/>
<rect x="601.65" y="245.26" width="1.0" height="25.74" fill="#EB8238"/>
<rect x="603.50" y="255.27" width="1.0" height="15.73" fill="#EB8238"/>
<rect x="605.36" y="255.27" width="1.0" height="15.73" fill="#EB8238"/>
<rect x="607.21" y="255.27" width="1.0" height="15.73" fill="#EB8238"/>
<rect x="609.07" y="255.27" width="1.0" height="15.73" fill="#EB8238"/>
<rect x="610.92" y="249.55" width="1.0" height="21.45" fill="#EB8238"/>
<rect x="612.78" y="253.84" width="1.0" height="17.16" fill="#EB8238"/>
<rect x="614.63" y="239.54" width="1.0" height="31.46" fill="#EB8238"/>
<rect x="616.49" y="225.24" width="1.0" height="45.76" fill="#EB8238"/>
<rect x="618.35" y="266.71" width="1.0" height="4.29" fill="#EB8238"/>
<rect x="620.20" y="266.71" width="1.0" height="4.29" fill="#EB8238"/>
<rect x="622.06" y="266.71" width="1.0" height="4.29" fill="#EB8238"/>
<rect x="623.91" y="253.84" width="1.0" height="17.16" fill="#EB8238"/>
<rect x="625.77" y="253.84" width="1.0" height="17.16" fill="#EB8238"/>
<rect x="627.62" y="239.54" width="1.0" height="31.46" fill="#EB8238"/>
<rect x="629.48" y="239.54" width="1.0" height="31.46" fill="#EB8238"/>
<rect x="631.33" y="239.54" width="1.0" height="31.46" fill="#EB8238"/>
<rect x="631.33" y="271.00" width="1.0" height="1.43" fill="#A2C36B"/>
<rect x="633.19" y="239.54" width="1.0" height="31.46" fill="#EB8238"/>
<rect x="633.19" y="271.00" width="1.0" height="1.43" fill="#A2C36B"/>
<rect x="635.04" y="249.55" width="1.0" height="21.45" fill="#EB8238"/>
<rect x="635.04" y="271.00" width="1.0" height="1.43" fill="#A2C36B"/>
<rect x="636.90" y="249.55" width="1.0" height="21.45" fill="#EB8238"/>
<rect x="636.90" y="271.00" width="1.0" height="1.43" fill="#A2C36B"/>
<rect x="638.75" y="258.13" width="1.0" height="12.87" fill="#EB8238"/>
<rect x="640.61" y="258.13" width="1.0" height="12.87" fill="#EB8238"/>
<rect x="642.47" y="258.13" width="1.0" height="12.87" fill="#EB8238"/>
<rect x="644.32" y="258.13" width="1.0" height="12.87" fill="#EB8238"/>
<rect x="646.18" y="258.13" width="1.0" height="12.87" fill="#EB8238"/>
<rect x="648.03" y="258.13" width="1.0" height="12.87" fill="#EB8238"/>
<rect x="649.89" y="258.13" width="1.0" height="12.87" fill="#EB8238"/>
<rect x="651.74" y="263.85" width="1.0" height="7.15" fill="#EB8238"/>
<rect x="653.60" y="233.82" width="1.0" height="37.18" fill="#EB8238"/>
<rect x="655.45" y="235.25" width="1.0" height="35.75" fill="#EB8238"/>
<rect x="657.31" y="235.25" width="1.0" height="35.75" fill="#EB8238"/>
<rect x="659.16" y="235.25" width="1.0" height="35.75" fill="#EB8238"/>
<rect x="661.02" y="239.54" width="1.0" height="31.46" fill="#EB8238"/>
<rect x="662.87" y="242.40" width="1.0" height="28.60" fill="#EB8238"/>
<rect x="664.73" y="250.98" width="1.0" height="20.02" fill="#EB8238"/>
<rect x="666.58" y="250.98" width="1.0" height="20.02" fill="#EB8238"/>
<rect x="668.44" y="250.98" width="1.0" height="20.02" fill="#EB8238"/>
<rect x="670.30" y="250.98" width="1.0" height="20.02" fill="#EB8238"/>
<rect x="672.15" y="249.55" width="1.0" height="21.45" fill="#EB8238"/>
<rect x="674.01" y="240.97" width="1.0" height="30.03" fill="#EB8238"/>
<rect x="675.86" y="240.97" width="1.0" height="30.03" fill="#EB8238"/>
<text transform="translate(372.58,346.85) rotate(-90)" text-anchor="end" font-size="5.85" fill="#424242">6:02 AM</text>
<text transform="translate(381.85,346.85) rotate(-90)" text-anchor="end" font-size="5.85" fill="#424242">6:26 AM</text>
<text transform="translate(391.13,346.85) rotate(-90)" text-anchor="end" font-size="5.85" fill="#424242">6:54 AM</text>
<text transform="translate(400.41,346.85) rotate(-90)" text-anchor="end" font-size="5.85" fill="#424242">7:29 AM</text>
<text transform="translate(409.68,346.85) rotate(-90)" text-anchor="end" font-size="5.85" fill="#424242">7:45 AM</text>
<text transform="translate(418.96,346.85) rotate(-90)" text-anchor="end" font-size="5.85" fill="#424242">8:10 AM</text>
<text transform="translate(428.24,346.85) rotate(-90)" text-anchor="end" font-size="5.85" fill="#424242">8:33 AM</text>
<text transform="translate(437.52,346.85) rotate(-90)" text-anchor="end" font-size="5.85" fill="#424242">8:58 AM</text>
<text transform="translate(446.79,346.85) rotate(-90)" text-anchor="end" font-size="5.85" fill="#424242">9:22 AM</text>
<text transform="translate(456.07,346.85) rotate(-90)" text-anchor="end" font-size="5.85" fill="#424242">9:41 AM</text>
<text transform="translate(465.35,346.85) rotate(-90)" text-anchor="end" font-size="5.85" fill="#424242">10:15 AM</text>
<text transform="translate(474.62,346.85) rotate(-90)" text-anchor="end" font-size="5.85" fill="#424242">10:46 AM</text>
<text transform="translate(483.90,346.85) rotate(-90)" text-anchor="end" font-size="5.85" fill="#424242">11:05 AM</text>
<text transform="translate(493.18,346.85) rotate(-90)" text-anchor="end" font-size="5.85" fill="#424242">11:15 AM</text>
<text transform="translate(502.45,346.85) rotate(-90)" text-anchor="end" font-size="5.85" fill="#424242">11:37 AM</text>
<text transform="translate(511.73,346.85) rotate(-90)" text-anchor="end" font-size="5.85" fill="#424242">12:07 PM</text>
<text transform="translate(521.01,346.85) rotate(-90)" text-anchor="end" font-size="5.85" fill="#424242">12:48 PM</text>
<text transform="translate(530.28,346.85) rotate(-90)" text-anchor="end" font-size="5.85" fill="#424242">1:17 PM</text>
<text transform="translate(539.56,346.85) rotate(-90)" text-anchor="end" font-size="5.85" fill="#424242">1:46 PM</text>
<text transform="translate(548.84,346.85) rotate(-90)" text-anchor="end" font-size="5.85" fill="#424242">2:01 PM</text>
<text transform="translate(558.11,346.85) rotate(-90)" text-anchor="end" font-size="5.85" fill="#424242">2:22 PM</text>
<text transform="translate(567.39,346.85) rotate(-90)" text-anchor="end" font-size="5.85" fill="#424242">2:41 PM</text>
<text transform="translate(576.67,346.85) rotate(-90)" text-anchor="end" font-size="5.85" fill="#424242">2:48 PM</text>
<text transform="translate(585.94,346.85) rotate(-90)" text-anchor="end" font-size="5.85" fill="#424242">3:06 PM</text>
<text transform="translate(595.22,346.85) rotate(-90)" text-anchor="end" font-size="5.85" fill="#424242">3:34 PM</text>
<text transform="translate(604.50,346.85) rotate(-90)" text-anchor="end" font-size="5.85" fill="#424242">4:06 PM</text>
<text transform="translate(613.77,346.85) rotate(-90)" text-anchor="end" font-size="5.85" fill="#424242">4:27 PM</text>
<text transform="translate(623.05,346.85) rotate(-90)" text-anchor="end" font-size="5.85" fill="#424242">5:32 PM</text>
<text transform="translate(632.33,346.85) rotate(-90)" text-anchor="end" font-size="5.85" fill="#424242">5:57 PM</text>
<text transform="translate(641.60,346.85) rotate(-90)" text-anchor="end" font-size="5.85" fill="#424242">6:23 PM</text>
<text transform="translate(650.88,346.85) rotate(-90)" text-anchor="end" font-size="5.85" fill="#424242">6:33 PM</text>
<text transform="translate(660.16,346.85) rotate(-90)" text-anchor="end" font-size="5.85" fill="#424242">7:23 PM</text>
<text transform="translate(669.43,346.85) rotate(-90)" text-anchor="end" font-size="5.85" fill="#424242">7:51 PM</text>
<text transform="translate(678.71,346.85) rotate(-90)" text-anchor="end" font-size="5.85" fill="#424242">8:44 PM</text>
<text transform="translate(353.80,270.90) rotate(-90)" text-anchor="middle" font-size="6.4" fill="#555">Loading</text>
<text x="525.3" y="380.1" text-anchor="middle" font-size="6.7" fill="#595959">Time</text>
<text class="cap" x="527.7" y="395.3" text-anchor="middle" font-size="10.2" fill="#000" stroke="#000" stroke-width="0.22">(d)</text>
</svg>
</body></html>
